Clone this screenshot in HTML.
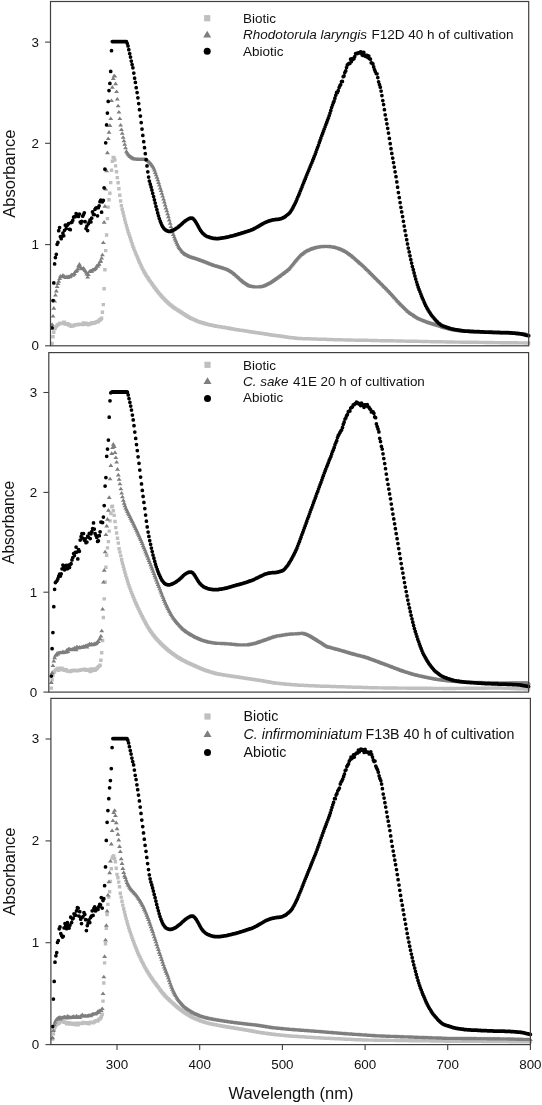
<!DOCTYPE html>
<html><head><meta charset="utf-8"><title>Absorbance spectra</title>
<style>
html,body{margin:0;padding:0;background:#fff}
svg{display:block;will-change:transform}
text{font-family:"Liberation Sans",sans-serif;fill:#111}
.t{font-size:13.4px}
.a{font-size:16.5px}
</style></head><body>
<svg width="542" height="1105" viewBox="0 0 542 1105">
<rect width="542" height="1105" fill="#fff"/>
<path d="M52.1 343.4h0M53 336.8h0M53.8 332.2h0M54.6 328.5h0M55.4 328h0M56.3 326.4h0M57.1 325.2h0M57.9 324.8h0M58.7 324.4h0M59.6 323.4h0M60.4 323.2h0M61.2 323.2h0M62 323.6h0M62.9 323.3h0M63.7 322.2h0M64.5 322.5h0M65.3 323.7h0M66.2 324.4h0M67 323.8h0M67.8 323.8h0M68.6 325.1h0M69.5 324.7h0M70.3 325.5h0M71.1 326.3h0M71.9 326h0M72.8 325.6h0M73.6 325.8h0M74.4 324.9h0M75.2 325h0M76.1 324.7h0M76.9 324.8h0M77.7 324.5h0M78.5 324.5h0M79.4 324.3h0M80.2 324.4h0M81 324.2h0M81.8 324.2h0M82.7 324.6h0M83.5 323h0M84.3 324.2h0M85.1 323.4h0M86 323.1h0M86.8 323.8h0M87.6 324h0M88.4 324.7h0M89.3 323.8h0M90.1 324.1h0M90.9 323.8h0M91.7 322.6h0M92.5 322.6h0M93.4 323.2h0M94.2 323h0M95 322.9h0M95.8 322.3h0M96.7 321.9h0M97.5 321.5h0M98.3 321.7h0M99.1 320.2h0M100 320h0M100.8 319.3h0M101.6 318.2h0M102.4 312.3h0M103.3 304.6h0M104.1 288.8h0M104.9 269.8h0M105.7 250.6h0M106.6 235h0M107.4 218.6h0M108.2 207.1h0M109 199.8h0M109.9 193.3h0M110.7 182.6h0M111.5 170.2h0M112.3 161.2h0M113.2 157.4h0M114 157.6h0M114.8 160h0M115.6 165.9h0M116.5 171.8h0M117.3 177.6h0M118.1 182.7h0M118.9 188.8h0M119.8 195.3h0M120.6 201h0M121.4 205.6h0M122.2 209.3h0M123.1 212.8h0M123.9 216.1h0M124.7 219.4h0M125.5 222.5h0M126.4 225.5h0M127.2 228.4h0M128 231.2h0M128.8 233.8h0M129.7 236.3h0M130.5 238.8h0M131.3 241.3h0M132.1 243.8h0M132.9 246.2h0M133.8 248.5h0M134.6 250.6h0M135.4 252.6h0M136.2 254.6h0M137.1 256.6h0M137.9 258.5h0M138.7 260.5h0M139.5 262.3h0M140.4 264.2h0M141.2 266h0M142 267.8h0M142.8 269.4h0M143.7 271h0M144.5 272.5h0M145.3 273.9h0M146.1 275.3h0M147 276.6h0M147.8 277.8h0M148.6 279h0M149.4 280.2h0M150.3 281.4h0M151.1 282.6h0M151.9 283.8h0M152.7 284.9h0M153.6 286.1h0M154.4 287.3h0M155.2 288.4h0M156 289.5h0M156.9 290.5h0M157.7 291.6h0M158.5 292.6h0M159.3 293.6h0M160.2 294.6h0M161 295.6h0M161.8 296.5h0M162.6 297.4h0M163.5 298.3h0M164.3 299.1h0M165.1 300h0M165.9 300.8h0M166.8 301.6h0M167.6 302.4h0M168.4 303.2h0M169.2 303.9h0M170.1 304.6h0M170.9 305.2h0M171.7 305.9h0M172.5 306.5h0M173.3 307.2h0M174.2 307.8h0M175 308.4h0M175.8 308.9h0M176.6 309.4h0M177.5 310h0M178.3 310.5h0M179.1 311h0M179.9 311.5h0M180.8 312h0M181.6 312.5h0M182.4 313.1h0M183.2 313.6h0M184.1 314.2h0M184.9 314.7h0M185.7 315.2h0M186.5 315.8h0M187.4 316.3h0M188.2 316.8h0M189 317.3h0M189.8 317.8h0M190.7 318.2h0M191.5 318.5h0M192.3 318.9h0M193.1 319.3h0M194 319.6h0M194.8 320h0M195.6 320.4h0M196.4 320.8h0M197.3 321.1h0M198.1 321.5h0M198.9 321.8h0M199.7 322.1h0M200.6 322.3h0M201.4 322.5h0M202.2 322.8h0M203 323h0M203.9 323.3h0M204.7 323.5h0M205.5 323.8h0M206.3 324h0M207.2 324.2h0M208 324.4h0M208.8 324.6h0M209.6 324.8h0M210.4 325h0M211.3 325.1h0M212.1 325.3h0M212.9 325.5h0M213.7 325.6h0M214.6 325.8h0M215.4 326h0M216.2 326.2h0M217 326.3h0M217.9 326.4h0M218.7 326.6h0M219.5 326.7h0M220.3 326.8h0M221.2 326.9h0M222 327.1h0M222.8 327.2h0M223.6 327.3h0M224.5 327.5h0M225.3 327.6h0M226.1 327.7h0M226.9 327.9h0M227.8 328h0M228.6 328.2h0M229.4 328.3h0M230.2 328.5h0M231.1 328.7h0M231.9 328.8h0M232.7 329h0M233.5 329.1h0M234.4 329.3h0M235.2 329.4h0M236 329.6h0M236.8 329.7h0M237.7 329.8h0M238.5 329.9h0M239.3 330.1h0M240.1 330.2h0M241 330.3h0M241.8 330.4h0M242.6 330.5h0M243.4 330.6h0M244.3 330.8h0M245.1 330.9h0M245.9 331h0M246.7 331.1h0M247.6 331.3h0M248.4 331.4h0M249.2 331.6h0M250 331.7h0M250.8 331.8h0M251.7 332h0M252.5 332.1h0M253.3 332.2h0M254.1 332.3h0M255 332.5h0M255.8 332.6h0M256.6 332.7h0M257.4 332.8h0M258.3 332.9h0M259.1 333h0M259.9 333.2h0M260.7 333.3h0M261.6 333.4h0M262.4 333.5h0M263.2 333.6h0M264 333.8h0M264.9 333.9h0M265.7 334h0M266.5 334.2h0M267.3 334.3h0M268.2 334.4h0M269 334.6h0M269.8 334.7h0M270.6 334.8h0M271.5 335h0M272.3 335.1h0M273.1 335.2h0M273.9 335.3h0M274.8 335.4h0M275.6 335.5h0M276.4 335.6h0M277.2 335.7h0M278.1 335.8h0M278.9 335.9h0M279.7 336h0M280.5 336.1h0M281.4 336.3h0M282.2 336.4h0M283 336.5h0M283.8 336.6h0M284.7 336.8h0M285.5 336.9h0M286.3 337h0M287.1 337.1h0M288 337.2h0M288.8 337.4h0M289.6 337.5h0M290.4 337.6h0M291.2 337.7h0M292.1 337.7h0M292.9 337.8h0M293.7 337.9h0M294.5 338h0M295.4 338.1h0M296.2 338.2h0M297 338.3h0M297.8 338.4h0M298.7 338.5h0M299.5 338.5h0M300.3 338.5h0M301.1 338.6h0M302 338.6h0M302.8 338.6h0M303.6 338.7h0M304.4 338.7h0M305.3 338.7h0M306.1 338.7h0M306.9 338.8h0M307.7 338.8h0M308.6 338.8h0M309.4 338.9h0M310.2 338.9h0M311 338.9h0M311.9 338.9h0M312.7 339h0M313.5 339h0M314.3 339h0M315.2 339h0M316 339.1h0M316.8 339.1h0M317.6 339.1h0M318.5 339.1h0M319.3 339.2h0M320.1 339.2h0M320.9 339.2h0M321.8 339.2h0M322.6 339.3h0M323.4 339.3h0M324.2 339.3h0M325.1 339.3h0M325.9 339.4h0M326.7 339.4h0M327.5 339.4h0M328.4 339.5h0M329.2 339.5h0M330 339.5h0M330.8 339.5h0M331.6 339.6h0M332.5 339.6h0M333.3 339.6h0M334.1 339.6h0M334.9 339.7h0M335.8 339.7h0M336.6 339.7h0M337.4 339.7h0M338.2 339.8h0M339.1 339.8h0M339.9 339.8h0M340.7 339.8h0M341.5 339.9h0M342.4 339.9h0M343.2 339.9h0M344 339.9h0M344.8 339.9h0M345.7 339.9h0M346.5 340h0M347.3 340h0M348.1 340h0M349 340h0M349.8 340h0M350.6 340h0M351.4 340.1h0M352.3 340.1h0M353.1 340.1h0M353.9 340.1h0M354.7 340.1h0M355.6 340.1h0M356.4 340.2h0M357.2 340.2h0M358 340.2h0M358.9 340.2h0M359.7 340.2h0M360.5 340.2h0M361.3 340.3h0M362.2 340.3h0M363 340.3h0M363.8 340.3h0M364.6 340.3h0M365.5 340.3h0M366.3 340.3h0M367.1 340.4h0M367.9 340.4h0M368.8 340.4h0M369.6 340.4h0M370.4 340.4h0M371.2 340.4h0M372 340.5h0M372.9 340.5h0M373.7 340.5h0M374.5 340.5h0M375.3 340.5h0M376.2 340.5h0M377 340.6h0M377.8 340.6h0M378.6 340.6h0M379.5 340.6h0M380.3 340.6h0M381.1 340.6h0M381.9 340.7h0M382.8 340.7h0M383.6 340.7h0M384.4 340.7h0M385.2 340.7h0M386.1 340.7h0M386.9 340.7h0M387.7 340.8h0M388.5 340.8h0M389.4 340.8h0M390.2 340.8h0M391 340.8h0M391.8 340.8h0M392.7 340.9h0M393.5 340.9h0M394.3 340.9h0M395.1 340.9h0M396 340.9h0M396.8 340.9h0M397.6 341h0M398.4 341h0M399.3 341h0M400.1 341h0M400.9 341h0M401.7 341h0M402.6 341.1h0M403.4 341.1h0M404.2 341.1h0M405 341.1h0M405.9 341.1h0M406.7 341.1h0M407.5 341.2h0M408.3 341.2h0M409.2 341.2h0M410 341.2h0M410.8 341.2h0M411.6 341.2h0M412.4 341.3h0M413.3 341.3h0M414.1 341.3h0M414.9 341.3h0M415.7 341.3h0M416.6 341.3h0M417.4 341.4h0M418.2 341.4h0M419 341.4h0M419.9 341.4h0M420.7 341.4h0M421.5 341.4h0M422.3 341.5h0M423.2 341.5h0M424 341.5h0M424.8 341.5h0M425.6 341.5h0M426.5 341.5h0M427.3 341.6h0M428.1 341.6h0M428.9 341.6h0M429.8 341.6h0M430.6 341.6h0M431.4 341.6h0M432.2 341.7h0M433.1 341.7h0M433.9 341.7h0M434.7 341.7h0M435.5 341.7h0M436.4 341.7h0M437.2 341.8h0M438 341.8h0M438.8 341.8h0M439.7 341.8h0M440.5 341.8h0M441.3 341.8h0M442.1 341.9h0M443 341.9h0M443.8 341.9h0M444.6 341.9h0M445.4 341.9h0M446.3 341.9h0M447.1 342h0M447.9 342h0M448.7 342h0M449.5 342h0M450.4 342h0M451.2 342h0M452 342h0M452.8 342h0M453.7 342.1h0M454.5 342.1h0M455.3 342.1h0M456.1 342.1h0M457 342.1h0M457.8 342.1h0M458.6 342.1h0M459.4 342.1h0M460.3 342.1h0M461.1 342.1h0M461.9 342.2h0M462.7 342.2h0M463.6 342.2h0M464.4 342.2h0M465.2 342.2h0M466 342.2h0M466.9 342.2h0M467.7 342.2h0M468.5 342.2h0M469.3 342.3h0M470.2 342.3h0M471 342.3h0M471.8 342.3h0M472.6 342.3h0M473.5 342.3h0M474.3 342.3h0M475.1 342.3h0M475.9 342.3h0M476.8 342.3h0M477.6 342.4h0M478.4 342.4h0M479.2 342.4h0M480.1 342.4h0M480.9 342.4h0M481.7 342.4h0M482.5 342.4h0M483.4 342.4h0M484.2 342.4h0M485 342.4h0M485.8 342.5h0M486.7 342.5h0M487.5 342.5h0M488.3 342.5h0M489.1 342.5h0M489.9 342.5h0M490.8 342.5h0M491.6 342.5h0M492.4 342.5h0M493.2 342.6h0M494.1 342.6h0M494.9 342.6h0M495.7 342.6h0M496.5 342.6h0M497.4 342.6h0M498.2 342.6h0M499 342.6h0M499.8 342.6h0M500.7 342.6h0M501.5 342.7h0M502.3 342.7h0M503.1 342.7h0M504 342.7h0M504.8 342.7h0M505.6 342.7h0M506.4 342.7h0M507.3 342.7h0M508.1 342.7h0M508.9 342.8h0M509.7 342.8h0M510.6 342.8h0M511.4 342.8h0M512.2 342.8h0M513 342.8h0M513.9 342.8h0M514.7 342.8h0M515.5 342.8h0M516.3 342.8h0M517.2 342.9h0M518 342.9h0M518.8 342.9h0M519.6 342.9h0M520.5 342.9h0M521.3 342.9h0M522.1 342.9h0M522.9 342.9h0M523.8 342.9h0M524.6 342.9h0M525.4 343h0M526.2 343h0M527.1 343h0M527.9 343h0M528.7 343h0" stroke="#bfbfbf" stroke-width="3.4" stroke-linecap="square" fill="none"/>
<path d="M52.1 322.3l2.5 3.6h-4.9zM53 313.9l2.5 3.6h-4.9zM53.8 306.1l2.5 3.6h-4.9zM54.6 298.8l2.5 3.6h-4.9zM55.4 292.9l2.5 3.6h-4.9zM56.3 288.8l2.5 3.6h-4.9zM57.1 284.5l2.5 3.6h-4.9zM57.9 281.3l2.5 3.6h-4.9zM58.7 279.1l2.5 3.6h-4.9zM59.6 276.4l2.5 3.6h-4.9zM60.4 274l2.5 3.6h-4.9zM61.2 274.7l2.5 3.6h-4.9zM62 274.6l2.5 3.6h-4.9zM62.9 273.1l2.5 3.6h-4.9zM63.7 274.4l2.5 3.6h-4.9zM64.5 274.2l2.5 3.6h-4.9zM65.3 275l2.5 3.6h-4.9zM66.2 275.4l2.5 3.6h-4.9zM67 274.5l2.5 3.6h-4.9zM67.8 275.3l2.5 3.6h-4.9zM68.6 274.6l2.5 3.6h-4.9zM69.5 274.6l2.5 3.6h-4.9zM70.3 274.4l2.5 3.6h-4.9zM71.1 272.9l2.5 3.6h-4.9zM71.9 272.7l2.5 3.6h-4.9zM72.8 273.1l2.5 3.6h-4.9zM73.6 272.2l2.5 3.6h-4.9zM74.4 271.3l2.5 3.6h-4.9zM75.2 269.4l2.5 3.6h-4.9zM76.1 269l2.5 3.6h-4.9zM76.9 268.2l2.5 3.6h-4.9zM77.7 266.7l2.5 3.6h-4.9zM78.5 263.7l2.5 3.6h-4.9zM79.4 262.1l2.5 3.6h-4.9zM80.2 264.6l2.5 3.6h-4.9zM81 266.4l2.5 3.6h-4.9zM81.8 266.4l2.5 3.6h-4.9zM82.7 266.7l2.5 3.6h-4.9zM83.5 266.1l2.5 3.6h-4.9zM84.3 267.1l2.5 3.6h-4.9zM85.1 268.5l2.5 3.6h-4.9zM86 269.8l2.5 3.6h-4.9zM86.8 271.8l2.5 3.6h-4.9zM87.6 275l2.5 3.6h-4.9zM88.4 272.4l2.5 3.6h-4.9zM89.3 269.5l2.5 3.6h-4.9zM90.1 269.3l2.5 3.6h-4.9zM90.9 268.6l2.5 3.6h-4.9zM91.7 269.2l2.5 3.6h-4.9zM92.5 267.8l2.5 3.6h-4.9zM93.4 267.6l2.5 3.6h-4.9zM94.2 267.4l2.5 3.6h-4.9zM95 266.5l2.5 3.6h-4.9zM95.8 265.6l2.5 3.6h-4.9zM96.7 263.8l2.5 3.6h-4.9zM97.5 264.1l2.5 3.6h-4.9zM98.3 262.6l2.5 3.6h-4.9zM99.1 261.9l2.5 3.6h-4.9zM100 259.4l2.5 3.6h-4.9zM100.8 258.9l2.5 3.6h-4.9zM101.6 256l2.5 3.6h-4.9zM102.4 252.7l2.5 3.6h-4.9zM103.3 240.4l2.5 3.6h-4.9zM104.1 220.1l2.5 3.6h-4.9zM104.9 204.1l2.5 3.6h-4.9zM105.7 186.9l2.5 3.6h-4.9zM106.6 168.6l2.5 3.6h-4.9zM107.4 150.6l2.5 3.6h-4.9zM108.2 136.4l2.5 3.6h-4.9zM109 130.1l2.5 3.6h-4.9zM109.9 123.3l2.5 3.6h-4.9zM110.7 116.5l2.5 3.6h-4.9zM111.5 98.5l2.5 3.6h-4.9zM112.3 85.1l2.5 3.6h-4.9zM113.2 76.5l2.5 3.6h-4.9zM114 73.8l2.5 3.6h-4.9zM114.8 73.9l2.5 3.6h-4.9zM115.6 81.6l2.5 3.6h-4.9zM116.5 89.4l2.5 3.6h-4.9zM117.3 96.9l2.5 3.6h-4.9zM118.1 103.7l2.5 3.6h-4.9zM118.9 110l2.5 3.6h-4.9zM119.8 116.5l2.5 3.6h-4.9zM120.6 122.9l2.5 3.6h-4.9zM121.4 127.5l2.5 3.6h-4.9zM122.2 131.2l2.5 3.6h-4.9zM123.1 135.2l2.5 3.6h-4.9zM123.9 138.7l2.5 3.6h-4.9zM124.7 142.2l2.5 3.6h-4.9zM125.5 145.7l2.5 3.6h-4.9zM126.4 149.2l2.5 3.6h-4.9zM127.2 150.7l2.5 3.6h-4.9zM128 151.8l2.5 3.6h-4.9zM128.8 152.8l2.5 3.6h-4.9zM129.7 153.8l2.5 3.6h-4.9zM130.5 154.5l2.5 3.6h-4.9zM131.3 155.1l2.5 3.6h-4.9zM132.1 155.6l2.5 3.6h-4.9zM132.9 156.1l2.5 3.6h-4.9zM133.8 156.6l2.5 3.6h-4.9zM134.6 156.9l2.5 3.6h-4.9zM135.4 157l2.5 3.6h-4.9zM136.2 157.1l2.5 3.6h-4.9zM137.1 157.2l2.5 3.6h-4.9zM137.9 157.2l2.5 3.6h-4.9zM138.7 157.3l2.5 3.6h-4.9zM139.5 157.3l2.5 3.6h-4.9zM140.4 157.3l2.5 3.6h-4.9zM141.2 157.3l2.5 3.6h-4.9zM142 157.3l2.5 3.6h-4.9zM142.8 157.3l2.5 3.6h-4.9zM143.7 157.2l2.5 3.6h-4.9zM144.5 157.2l2.5 3.6h-4.9zM145.3 157.2l2.5 3.6h-4.9zM146.1 157.4l2.5 3.6h-4.9zM147 157.8l2.5 3.6h-4.9zM147.8 158.4l2.5 3.6h-4.9zM148.6 159.2l2.5 3.6h-4.9zM149.4 160l2.5 3.6h-4.9zM150.3 160.9l2.5 3.6h-4.9zM151.1 161.8l2.5 3.6h-4.9zM151.9 162.8l2.5 3.6h-4.9zM152.7 164.1l2.5 3.6h-4.9zM153.6 165.9l2.5 3.6h-4.9zM154.4 168l2.5 3.6h-4.9zM155.2 170.3l2.5 3.6h-4.9zM156 172.7l2.5 3.6h-4.9zM156.9 175.1l2.5 3.6h-4.9zM157.7 177.7l2.5 3.6h-4.9zM158.5 180.3l2.5 3.6h-4.9zM159.3 183l2.5 3.6h-4.9zM160.2 185.8l2.5 3.6h-4.9zM161 188.5l2.5 3.6h-4.9zM161.8 191.2l2.5 3.6h-4.9zM162.6 194l2.5 3.6h-4.9zM163.5 196.9l2.5 3.6h-4.9zM164.3 199.8l2.5 3.6h-4.9zM165.1 202.8l2.5 3.6h-4.9zM165.9 205.8l2.5 3.6h-4.9zM166.8 208.7l2.5 3.6h-4.9zM167.6 211.7l2.5 3.6h-4.9zM168.4 214.6l2.5 3.6h-4.9zM169.2 217.8l2.5 3.6h-4.9zM170.1 221.1l2.5 3.6h-4.9zM170.9 224.4l2.5 3.6h-4.9zM171.7 227.3l2.5 3.6h-4.9zM172.5 229.9l2.5 3.6h-4.9zM173.3 232.4l2.5 3.6h-4.9zM174.2 234.7l2.5 3.6h-4.9zM175 236.8l2.5 3.6h-4.9zM175.8 238.7l2.5 3.6h-4.9zM176.6 240.6l2.5 3.6h-4.9zM177.5 242.3l2.5 3.6h-4.9zM178.3 243.9l2.5 3.6h-4.9zM179.1 245.3l2.5 3.6h-4.9zM179.9 246.4l2.5 3.6h-4.9zM180.8 247.5l2.5 3.6h-4.9zM181.6 248.6l2.5 3.6h-4.9zM182.4 249.6l2.5 3.6h-4.9zM183.2 250.5l2.5 3.6h-4.9zM184.1 251.2l2.5 3.6h-4.9zM184.9 251.8l2.5 3.6h-4.9zM185.7 252.3l2.5 3.6h-4.9zM186.5 252.8l2.5 3.6h-4.9zM187.4 253.2l2.5 3.6h-4.9zM188.2 253.7l2.5 3.6h-4.9zM189 254.1l2.5 3.6h-4.9zM189.8 254.5l2.5 3.6h-4.9zM190.7 254.9l2.5 3.6h-4.9zM191.5 255.1l2.5 3.6h-4.9zM192.3 255.4l2.5 3.6h-4.9zM193.1 255.6l2.5 3.6h-4.9zM194 255.9l2.5 3.6h-4.9zM194.8 256.1l2.5 3.6h-4.9zM195.6 256.4l2.5 3.6h-4.9zM196.4 256.6l2.5 3.6h-4.9zM197.3 256.9l2.5 3.6h-4.9zM198.1 257.2l2.5 3.6h-4.9zM198.9 257.5l2.5 3.6h-4.9zM199.7 257.8l2.5 3.6h-4.9zM200.6 258.1l2.5 3.6h-4.9zM201.4 258.4l2.5 3.6h-4.9zM202.2 258.7l2.5 3.6h-4.9zM203 259l2.5 3.6h-4.9zM203.9 259.3l2.5 3.6h-4.9zM204.7 259.6l2.5 3.6h-4.9zM205.5 259.9l2.5 3.6h-4.9zM206.3 260.2l2.5 3.6h-4.9zM207.2 260.6l2.5 3.6h-4.9zM208 260.9l2.5 3.6h-4.9zM208.8 261.2l2.5 3.6h-4.9zM209.6 261.6l2.5 3.6h-4.9zM210.4 261.9l2.5 3.6h-4.9zM211.3 262.2l2.5 3.6h-4.9zM212.1 262.5l2.5 3.6h-4.9zM212.9 262.9l2.5 3.6h-4.9zM213.7 263.1l2.5 3.6h-4.9zM214.6 263.4l2.5 3.6h-4.9zM215.4 263.7l2.5 3.6h-4.9zM216.2 263.9l2.5 3.6h-4.9zM217 264.1l2.5 3.6h-4.9zM217.9 264.4l2.5 3.6h-4.9zM218.7 264.6l2.5 3.6h-4.9zM219.5 264.9l2.5 3.6h-4.9zM220.3 265.1l2.5 3.6h-4.9zM221.2 265.4l2.5 3.6h-4.9zM222 265.6l2.5 3.6h-4.9zM222.8 265.9l2.5 3.6h-4.9zM223.6 266.1l2.5 3.6h-4.9zM224.5 266.4l2.5 3.6h-4.9zM225.3 266.7l2.5 3.6h-4.9zM226.1 266.9l2.5 3.6h-4.9zM226.9 267.2l2.5 3.6h-4.9zM227.8 267.6l2.5 3.6h-4.9zM228.6 268l2.5 3.6h-4.9zM229.4 268.5l2.5 3.6h-4.9zM230.2 269l2.5 3.6h-4.9zM231.1 269.5l2.5 3.6h-4.9zM231.9 270l2.5 3.6h-4.9zM232.7 270.5l2.5 3.6h-4.9zM233.5 271.2l2.5 3.6h-4.9zM234.4 271.8l2.5 3.6h-4.9zM235.2 272.5l2.5 3.6h-4.9zM236 273.2l2.5 3.6h-4.9zM236.8 273.9l2.5 3.6h-4.9zM237.7 274.7l2.5 3.6h-4.9zM238.5 275.4l2.5 3.6h-4.9zM239.3 276.1l2.5 3.6h-4.9zM240.1 276.9l2.5 3.6h-4.9zM241 277.7l2.5 3.6h-4.9zM241.8 278.4l2.5 3.6h-4.9zM242.6 279.1l2.5 3.6h-4.9zM243.4 279.8l2.5 3.6h-4.9zM244.3 280.4l2.5 3.6h-4.9zM245.1 280.9l2.5 3.6h-4.9zM245.9 281.5l2.5 3.6h-4.9zM246.7 282.1l2.5 3.6h-4.9zM247.6 282.6l2.5 3.6h-4.9zM248.4 283.1l2.5 3.6h-4.9zM249.2 283.6l2.5 3.6h-4.9zM250 283.9l2.5 3.6h-4.9zM250.8 284.1l2.5 3.6h-4.9zM251.7 284.3l2.5 3.6h-4.9zM252.5 284.4l2.5 3.6h-4.9zM253.3 284.6l2.5 3.6h-4.9zM254.1 284.7l2.5 3.6h-4.9zM255 284.9l2.5 3.6h-4.9zM255.8 285l2.5 3.6h-4.9zM256.6 285l2.5 3.6h-4.9zM257.4 285l2.5 3.6h-4.9zM258.3 284.9l2.5 3.6h-4.9zM259.1 284.8l2.5 3.6h-4.9zM259.9 284.7l2.5 3.6h-4.9zM260.7 284.6l2.5 3.6h-4.9zM261.6 284.4l2.5 3.6h-4.9zM262.4 284.2l2.5 3.6h-4.9zM263.2 283.9l2.5 3.6h-4.9zM264 283.6l2.5 3.6h-4.9zM264.9 283.2l2.5 3.6h-4.9zM265.7 282.8l2.5 3.6h-4.9zM266.5 282.4l2.5 3.6h-4.9zM267.3 282l2.5 3.6h-4.9zM268.2 281.6l2.5 3.6h-4.9zM269 281.2l2.5 3.6h-4.9zM269.8 280.7l2.5 3.6h-4.9zM270.6 280.2l2.5 3.6h-4.9zM271.5 279.6l2.5 3.6h-4.9zM272.3 279.1l2.5 3.6h-4.9zM273.1 278.5l2.5 3.6h-4.9zM273.9 277.9l2.5 3.6h-4.9zM274.8 277.3l2.5 3.6h-4.9zM275.6 276.7l2.5 3.6h-4.9zM276.4 276.2l2.5 3.6h-4.9zM277.2 275.6l2.5 3.6h-4.9zM278.1 275l2.5 3.6h-4.9zM278.9 274.4l2.5 3.6h-4.9zM279.7 273.8l2.5 3.6h-4.9zM280.5 273.2l2.5 3.6h-4.9zM281.4 272.5l2.5 3.6h-4.9zM282.2 271.9l2.5 3.6h-4.9zM283 271.3l2.5 3.6h-4.9zM283.8 270.7l2.5 3.6h-4.9zM284.7 270.1l2.5 3.6h-4.9zM285.5 269.4l2.5 3.6h-4.9zM286.3 268.8l2.5 3.6h-4.9zM287.1 268.1l2.5 3.6h-4.9zM288 267.4l2.5 3.6h-4.9zM288.8 266.6l2.5 3.6h-4.9zM289.6 265.7l2.5 3.6h-4.9zM290.4 264.7l2.5 3.6h-4.9zM291.2 263.7l2.5 3.6h-4.9zM292.1 262.7l2.5 3.6h-4.9zM292.9 261.6l2.5 3.6h-4.9zM293.7 260.6l2.5 3.6h-4.9zM294.5 259.6l2.5 3.6h-4.9zM295.4 258.6l2.5 3.6h-4.9zM296.2 257.6l2.5 3.6h-4.9zM297 256.7l2.5 3.6h-4.9zM297.8 255.7l2.5 3.6h-4.9zM298.7 254.8l2.5 3.6h-4.9zM299.5 253.9l2.5 3.6h-4.9zM300.3 253.1l2.5 3.6h-4.9zM301.1 252.4l2.5 3.6h-4.9zM302 251.8l2.5 3.6h-4.9zM302.8 251.2l2.5 3.6h-4.9zM303.6 250.6l2.5 3.6h-4.9zM304.4 250l2.5 3.6h-4.9zM305.3 249.5l2.5 3.6h-4.9zM306.1 249l2.5 3.6h-4.9zM306.9 248.6l2.5 3.6h-4.9zM307.7 248.2l2.5 3.6h-4.9zM308.6 247.9l2.5 3.6h-4.9zM309.4 247.5l2.5 3.6h-4.9zM310.2 247.1l2.5 3.6h-4.9zM311 246.8l2.5 3.6h-4.9zM311.9 246.6l2.5 3.6h-4.9zM312.7 246.3l2.5 3.6h-4.9zM313.5 246l2.5 3.6h-4.9zM314.3 245.8l2.5 3.6h-4.9zM315.2 245.6l2.5 3.6h-4.9zM316 245.4l2.5 3.6h-4.9zM316.8 245.2l2.5 3.6h-4.9zM317.6 245.1l2.5 3.6h-4.9zM318.5 245l2.5 3.6h-4.9zM319.3 244.8l2.5 3.6h-4.9zM320.1 244.7l2.5 3.6h-4.9zM320.9 244.7l2.5 3.6h-4.9zM321.8 244.6l2.5 3.6h-4.9zM322.6 244.6l2.5 3.6h-4.9zM323.4 244.6l2.5 3.6h-4.9zM324.2 244.5l2.5 3.6h-4.9zM325.1 244.5l2.5 3.6h-4.9zM325.9 244.5l2.5 3.6h-4.9zM326.7 244.5l2.5 3.6h-4.9zM327.5 244.5l2.5 3.6h-4.9zM328.4 244.5l2.5 3.6h-4.9zM329.2 244.6l2.5 3.6h-4.9zM330 244.6l2.5 3.6h-4.9zM330.8 244.7l2.5 3.6h-4.9zM331.6 244.8l2.5 3.6h-4.9zM332.5 244.9l2.5 3.6h-4.9zM333.3 245l2.5 3.6h-4.9zM334.1 245.1l2.5 3.6h-4.9zM334.9 245.3l2.5 3.6h-4.9zM335.8 245.5l2.5 3.6h-4.9zM336.6 245.7l2.5 3.6h-4.9zM337.4 245.9l2.5 3.6h-4.9zM338.2 246.2l2.5 3.6h-4.9zM339.1 246.5l2.5 3.6h-4.9zM339.9 246.8l2.5 3.6h-4.9zM340.7 247.1l2.5 3.6h-4.9zM341.5 247.4l2.5 3.6h-4.9zM342.4 247.8l2.5 3.6h-4.9zM343.2 248.2l2.5 3.6h-4.9zM344 248.6l2.5 3.6h-4.9zM344.8 249.1l2.5 3.6h-4.9zM345.7 249.5l2.5 3.6h-4.9zM346.5 250l2.5 3.6h-4.9zM347.3 250.5l2.5 3.6h-4.9zM348.1 251.1l2.5 3.6h-4.9zM349 251.7l2.5 3.6h-4.9zM349.8 252.3l2.5 3.6h-4.9zM350.6 252.8l2.5 3.6h-4.9zM351.4 253.5l2.5 3.6h-4.9zM352.3 254.1l2.5 3.6h-4.9zM353.1 254.8l2.5 3.6h-4.9zM353.9 255.5l2.5 3.6h-4.9zM354.7 256.2l2.5 3.6h-4.9zM355.6 257l2.5 3.6h-4.9zM356.4 257.7l2.5 3.6h-4.9zM357.2 258.4l2.5 3.6h-4.9zM358 259.1l2.5 3.6h-4.9zM358.9 259.8l2.5 3.6h-4.9zM359.7 260.6l2.5 3.6h-4.9zM360.5 261.3l2.5 3.6h-4.9zM361.3 262l2.5 3.6h-4.9zM362.2 262.7l2.5 3.6h-4.9zM363 263.5l2.5 3.6h-4.9zM363.8 264.2l2.5 3.6h-4.9zM364.6 265l2.5 3.6h-4.9zM365.5 265.8l2.5 3.6h-4.9zM366.3 266.6l2.5 3.6h-4.9zM367.1 267.4l2.5 3.6h-4.9zM367.9 268.2l2.5 3.6h-4.9zM368.8 269l2.5 3.6h-4.9zM369.6 269.8l2.5 3.6h-4.9zM370.4 270.6l2.5 3.6h-4.9zM371.2 271.5l2.5 3.6h-4.9zM372 272.3l2.5 3.6h-4.9zM372.9 273.1l2.5 3.6h-4.9zM373.7 273.9l2.5 3.6h-4.9zM374.5 274.8l2.5 3.6h-4.9zM375.3 275.6l2.5 3.6h-4.9zM376.2 276.4l2.5 3.6h-4.9zM377 277.2l2.5 3.6h-4.9zM377.8 278.1l2.5 3.6h-4.9zM378.6 278.9l2.5 3.6h-4.9zM379.5 279.7l2.5 3.6h-4.9zM380.3 280.5l2.5 3.6h-4.9zM381.1 281.4l2.5 3.6h-4.9zM381.9 282.2l2.5 3.6h-4.9zM382.8 283l2.5 3.6h-4.9zM383.6 283.8l2.5 3.6h-4.9zM384.4 284.7l2.5 3.6h-4.9zM385.2 285.5l2.5 3.6h-4.9zM386.1 286.3l2.5 3.6h-4.9zM386.9 287.1l2.5 3.6h-4.9zM387.7 288l2.5 3.6h-4.9zM388.5 288.9l2.5 3.6h-4.9zM389.4 289.7l2.5 3.6h-4.9zM390.2 290.6l2.5 3.6h-4.9zM391 291.5l2.5 3.6h-4.9zM391.8 292.4l2.5 3.6h-4.9zM392.7 293.3l2.5 3.6h-4.9zM393.5 294.2l2.5 3.6h-4.9zM394.3 295.1l2.5 3.6h-4.9zM395.1 296l2.5 3.6h-4.9zM396 296.9l2.5 3.6h-4.9zM396.8 297.9l2.5 3.6h-4.9zM397.6 298.8l2.5 3.6h-4.9zM398.4 299.7l2.5 3.6h-4.9zM399.3 300.6l2.5 3.6h-4.9zM400.1 301.5l2.5 3.6h-4.9zM400.9 302.3l2.5 3.6h-4.9zM401.7 303.1l2.5 3.6h-4.9zM402.6 303.9l2.5 3.6h-4.9zM403.4 304.7l2.5 3.6h-4.9zM404.2 305.5l2.5 3.6h-4.9zM405 306.3l2.5 3.6h-4.9zM405.9 307.2l2.5 3.6h-4.9zM406.7 308l2.5 3.6h-4.9zM407.5 308.8l2.5 3.6h-4.9zM408.3 309.5l2.5 3.6h-4.9zM409.2 310.2l2.5 3.6h-4.9zM410 310.8l2.5 3.6h-4.9zM410.8 311.4l2.5 3.6h-4.9zM411.6 311.9l2.5 3.6h-4.9zM412.4 312.5l2.5 3.6h-4.9zM413.3 313l2.5 3.6h-4.9zM414.1 313.6l2.5 3.6h-4.9zM414.9 314.1l2.5 3.6h-4.9zM415.7 314.7l2.5 3.6h-4.9zM416.6 315.2l2.5 3.6h-4.9zM417.4 315.7l2.5 3.6h-4.9zM418.2 316.2l2.5 3.6h-4.9zM419 316.7l2.5 3.6h-4.9zM419.9 317l2.5 3.6h-4.9zM420.7 317.4l2.5 3.6h-4.9zM421.5 317.7l2.5 3.6h-4.9zM422.3 318l2.5 3.6h-4.9zM423.2 318.4l2.5 3.6h-4.9zM424 318.7l2.5 3.6h-4.9zM424.8 319l2.5 3.6h-4.9zM425.6 319.3l2.5 3.6h-4.9zM426.5 319.7l2.5 3.6h-4.9zM427.3 320l2.5 3.6h-4.9zM428.1 320.3l2.5 3.6h-4.9zM428.9 320.6l2.5 3.6h-4.9zM429.8 320.8l2.5 3.6h-4.9zM430.6 321.1l2.5 3.6h-4.9zM431.4 321.3l2.5 3.6h-4.9zM432.2 321.6l2.5 3.6h-4.9zM433.1 321.8l2.5 3.6h-4.9zM433.9 322.1l2.5 3.6h-4.9zM434.7 322.3l2.5 3.6h-4.9zM435.5 322.6l2.5 3.6h-4.9zM436.4 322.8l2.5 3.6h-4.9zM437.2 323.1l2.5 3.6h-4.9zM438 323.3l2.5 3.6h-4.9zM438.8 323.6l2.5 3.6h-4.9zM439.7 323.9l2.5 3.6h-4.9zM440.5 324.2l2.5 3.6h-4.9zM441.3 324.5l2.5 3.6h-4.9zM442.1 324.8l2.5 3.6h-4.9zM443 325.1l2.5 3.6h-4.9zM443.8 325.4l2.5 3.6h-4.9zM444.6 325.6l2.5 3.6h-4.9zM445.4 325.8l2.5 3.6h-4.9zM446.3 326l2.5 3.6h-4.9zM447.1 326.3l2.5 3.6h-4.9zM447.9 326.5l2.5 3.6h-4.9zM448.7 326.7l2.5 3.6h-4.9zM449.5 326.9l2.5 3.6h-4.9zM450.4 327.1l2.5 3.6h-4.9zM451.2 327.3l2.5 3.6h-4.9zM452 327.5l2.5 3.6h-4.9zM452.8 327.7l2.5 3.6h-4.9zM453.7 327.9l2.5 3.6h-4.9zM454.5 328l2.5 3.6h-4.9zM455.3 328.1l2.5 3.6h-4.9zM456.1 328.2l2.5 3.6h-4.9zM457 328.3l2.5 3.6h-4.9zM457.8 328.5l2.5 3.6h-4.9zM458.6 328.6l2.5 3.6h-4.9zM459.4 328.7l2.5 3.6h-4.9zM460.3 328.8l2.5 3.6h-4.9zM461.1 328.9l2.5 3.6h-4.9zM461.9 329l2.5 3.6h-4.9zM462.7 329.1l2.5 3.6h-4.9zM463.6 329.2l2.5 3.6h-4.9zM464.4 329.3l2.5 3.6h-4.9zM465.2 329.4l2.5 3.6h-4.9zM466 329.4l2.5 3.6h-4.9zM466.9 329.5l2.5 3.6h-4.9zM467.7 329.5l2.5 3.6h-4.9zM468.5 329.5l2.5 3.6h-4.9zM469.3 329.6l2.5 3.6h-4.9zM470.2 329.6l2.5 3.6h-4.9zM471 329.7l2.5 3.6h-4.9zM471.8 329.7l2.5 3.6h-4.9zM472.6 329.8l2.5 3.6h-4.9zM473.5 329.8l2.5 3.6h-4.9zM474.3 329.8l2.5 3.6h-4.9zM475.1 329.9l2.5 3.6h-4.9zM475.9 329.9l2.5 3.6h-4.9zM476.8 330l2.5 3.6h-4.9zM477.6 330l2.5 3.6h-4.9zM478.4 330l2.5 3.6h-4.9zM479.2 330.1l2.5 3.6h-4.9zM480.1 330.1l2.5 3.6h-4.9zM480.9 330.2l2.5 3.6h-4.9zM481.7 330.2l2.5 3.6h-4.9zM482.5 330.2l2.5 3.6h-4.9zM483.4 330.3l2.5 3.6h-4.9zM484.2 330.3l2.5 3.6h-4.9zM485 330.4l2.5 3.6h-4.9zM485.8 330.4l2.5 3.6h-4.9zM486.7 330.4l2.5 3.6h-4.9zM487.5 330.5l2.5 3.6h-4.9zM488.3 330.5l2.5 3.6h-4.9zM489.1 330.5l2.5 3.6h-4.9zM489.9 330.5l2.5 3.6h-4.9zM490.8 330.6l2.5 3.6h-4.9zM491.6 330.6l2.5 3.6h-4.9zM492.4 330.6l2.5 3.6h-4.9zM493.2 330.6l2.5 3.6h-4.9zM494.1 330.6l2.5 3.6h-4.9zM494.9 330.7l2.5 3.6h-4.9zM495.7 330.7l2.5 3.6h-4.9zM496.5 330.7l2.5 3.6h-4.9zM497.4 330.7l2.5 3.6h-4.9zM498.2 330.8l2.5 3.6h-4.9zM499 330.8l2.5 3.6h-4.9zM499.8 330.8l2.5 3.6h-4.9zM500.7 330.8l2.5 3.6h-4.9zM501.5 330.8l2.5 3.6h-4.9zM502.3 330.9l2.5 3.6h-4.9zM503.1 330.9l2.5 3.6h-4.9zM504 330.9l2.5 3.6h-4.9zM504.8 330.9l2.5 3.6h-4.9zM505.6 331l2.5 3.6h-4.9zM506.4 331l2.5 3.6h-4.9zM507.3 331l2.5 3.6h-4.9zM508.1 331l2.5 3.6h-4.9zM508.9 331.1l2.5 3.6h-4.9zM509.7 331.1l2.5 3.6h-4.9zM510.6 331.2l2.5 3.6h-4.9zM511.4 331.2l2.5 3.6h-4.9zM512.2 331.3l2.5 3.6h-4.9zM513 331.3l2.5 3.6h-4.9zM513.9 331.4l2.5 3.6h-4.9zM514.7 331.4l2.5 3.6h-4.9zM515.5 331.5l2.5 3.6h-4.9zM516.3 331.5l2.5 3.6h-4.9zM517.2 331.6l2.5 3.6h-4.9zM518 331.6l2.5 3.6h-4.9zM518.8 331.7l2.5 3.6h-4.9zM519.6 331.8l2.5 3.6h-4.9zM520.5 331.8l2.5 3.6h-4.9zM521.3 331.9l2.5 3.6h-4.9zM522.1 331.9l2.5 3.6h-4.9zM522.9 332l2.5 3.6h-4.9zM523.8 332l2.5 3.6h-4.9zM524.6 332.1l2.5 3.6h-4.9zM525.4 332.1l2.5 3.6h-4.9zM526.2 332.2l2.5 3.6h-4.9z" fill="#7e7e7e"/>
<path d="M52.1 327.9h0M53 300.6h0M53.8 282.9h0M54.6 263.9h0M55.4 257.5h0M56.3 254.3h0M57.1 244.3h0M57.9 242.4h0M58.7 230.7h0M59.6 227.5h0M60.4 236.7h0M61.2 238.7h0M62 236.4h0M62.9 233.1h0M63.7 235.7h0M64.5 230.3h0M65.3 225.2h0M66.2 228.6h0M67 225.6h0M67.8 224.6h0M68.6 223.5h0M69.5 229.3h0M70.3 229.7h0M71.1 222.6h0M71.9 222.2h0M72.8 220.3h0M73.6 217h0M74.4 216.9h0M75.2 216.7h0M76.1 213.6h0M76.9 214.8h0M77.7 215.1h0M78.5 216.4h0M79.4 214.1h0M80.2 222h0M81 223h0M81.8 221.3h0M82.7 216.2h0M83.5 214.6h0M84.3 212.8h0M85.1 221.7h0M86 228.5h0M86.8 226h0M87.6 230.5h0M88.4 223.8h0M89.3 221.9h0M90.1 219.8h0M90.9 221.9h0M91.7 218.2h0M92.5 211.9h0M93.4 214.3h0M94.2 214.6h0M95 209.3h0M95.8 208.1h0M96.7 207.9h0M97.5 215.8h0M98.3 207.7h0M99.1 205.8h0M100 201.7h0M100.8 200h0M101.6 212.2h0M102.4 201.8h0M103.3 200.4h0M104.1 187.8h0M104.9 169.2h0M105.7 142.8h0M106.6 124.9h0M107.4 113.1h0M108.2 101.4h0M109 90.6h0M109.9 83.4h0M110.7 71.4h0M111.5 50.7h0M112.3 41.6h0M113.2 41.6h0M114 41.6h0M114.8 41.6h0M115.6 41.6h0M116.5 41.6h0M117.3 41.6h0M118.1 41.6h0M118.9 41.6h0M119.8 41.6h0M120.6 41.6h0M121.4 41.6h0M122.2 41.6h0M123.1 41.6h0M123.9 41.6h0M124.7 41.6h0M125.5 41.6h0M126.4 41.6h0M127.2 43.3h0M128 45.9h0M128.8 49.7h0M129.7 53.5h0M130.5 57h0M131.3 61.1h0M132.1 64.5h0M132.9 67.8h0M133.8 73.1h0M134.6 78.2h0M135.4 82.4h0M136.2 87.7h0M137.1 92.5h0M137.9 97.8h0M138.7 103.6h0M139.5 109.7h0M140.4 116.1h0M141.2 122.6h0M142 129h0M142.8 135.4h0M143.7 141.7h0M144.5 147.7h0M145.3 153.7h0M146.1 159.7h0M147 165.9h0M147.8 171.8h0M148.6 177h0M149.4 181h0M150.3 184.2h0M151.1 187.1h0M151.9 190.1h0M152.7 193.3h0M153.6 196.5h0M154.4 199.8h0M155.2 203.1h0M156 206.4h0M156.9 209.7h0M157.7 212.9h0M158.5 215.8h0M159.3 218.5h0M160.2 221h0M161 223.1h0M161.8 225h0M162.6 226.5h0M163.5 227.8h0M164.3 228.8h0M165.1 229.6h0M165.9 230.2h0M166.8 230.7h0M167.6 231.1h0M168.4 231.3h0M169.2 231.3h0M170.1 231.3h0M170.9 231.2h0M171.7 230.9h0M172.5 230.6h0M173.3 230.2h0M174.2 229.8h0M175 229.3h0M175.8 228.7h0M176.6 228.1h0M177.5 227.5h0M178.3 226.9h0M179.1 226.2h0M179.9 225.5h0M180.8 224.8h0M181.6 224h0M182.4 223.3h0M183.2 222.5h0M184.1 221.8h0M184.9 221.2h0M185.7 220.6h0M186.5 220h0M187.4 219.5h0M188.2 219h0M189 218.7h0M189.8 218.4h0M190.7 218.2h0M191.5 218.1h0M192.3 218.2h0M193.1 218.7h0M194 219.6h0M194.8 220.6h0M195.6 221.7h0M196.4 223h0M197.3 224.5h0M198.1 226.1h0M198.9 227.6h0M199.7 229.1h0M200.6 230.4h0M201.4 231.6h0M202.2 232.6h0M203 233.5h0M203.9 234.2h0M204.7 234.9h0M205.5 235.5h0M206.3 236.1h0M207.2 236.5h0M208 236.8h0M208.8 237.1h0M209.6 237.4h0M210.4 237.7h0M211.3 237.9h0M212.1 238.1h0M212.9 238.3h0M213.7 238.4h0M214.6 238.4h0M215.4 238.5h0M216.2 238.5h0M217 238.5h0M217.9 238.5h0M218.7 238.5h0M219.5 238.4h0M220.3 238.3h0M221.2 238.2h0M222 238h0M222.8 237.9h0M223.6 237.8h0M224.5 237.7h0M225.3 237.5h0M226.1 237.4h0M226.9 237.2h0M227.8 237h0M228.6 236.8h0M229.4 236.6h0M230.2 236.4h0M231.1 236.2h0M231.9 236h0M232.7 235.8h0M233.5 235.6h0M234.4 235.4h0M235.2 235.2h0M236 234.9h0M236.8 234.7h0M237.7 234.4h0M238.5 234.2h0M239.3 233.9h0M240.1 233.7h0M241 233.4h0M241.8 233.2h0M242.6 232.9h0M243.4 232.7h0M244.3 232.4h0M245.1 232.1h0M245.9 231.9h0M246.7 231.6h0M247.6 231.3h0M248.4 231h0M249.2 230.8h0M250 230.5h0M250.8 230.2h0M251.7 229.9h0M252.5 229.6h0M253.3 229.2h0M254.1 228.7h0M255 228.2h0M255.8 227.8h0M256.6 227.3h0M257.4 226.9h0M258.3 226.4h0M259.1 225.9h0M259.9 225.4h0M260.7 224.9h0M261.6 224.4h0M262.4 224h0M263.2 223.5h0M264 223.1h0M264.9 222.7h0M265.7 222.3h0M266.5 222h0M267.3 221.6h0M268.2 221.3h0M269 221h0M269.8 220.7h0M270.6 220.5h0M271.5 220.3h0M272.3 220.1h0M273.1 219.9h0M273.9 219.8h0M274.8 219.6h0M275.6 219.5h0M276.4 219.4h0M277.2 219.3h0M278.1 219.3h0M278.9 219.2h0M279.7 219.1h0M280.5 218.9h0M281.4 218.6h0M282.2 218.2h0M283 217.9h0M283.8 217.4h0M284.7 216.9h0M285.5 216.3h0M286.3 215.6h0M287.1 215h0M288 214.3h0M288.8 213.5h0M289.6 212.8h0M290.4 211.8h0M291.2 210.6h0M292.1 209.2h0M292.9 207.7h0M293.7 206.1h0M294.5 204.5h0M295.4 202.8h0M296.2 201h0M297 199.1h0M297.8 197.1h0M298.7 195.2h0M299.5 193.2h0M300.3 191.1h0M301.1 189h0M302 186.9h0M302.8 184.8h0M303.6 182.8h0M304.4 180.7h0M305.3 178.7h0M306.1 176.6h0M306.9 174.6h0M307.7 172.6h0M308.6 170.6h0M309.4 168.5h0M310.2 166.5h0M311 164.5h0M311.9 162.5h0M312.7 160.4h0M313.5 158.4h0M314.3 156.3h0M315.2 154.2h0M316 151.9h0M316.8 149.6h0M317.6 147.3h0M318.5 145h0M319.3 142.6h0M320.1 140.3h0M320.9 137.9h0M321.8 135.6h0M322.6 133.4h0M323.4 131.2h0M324.2 129h0M325.1 126.8h0M325.9 124.6h0M326.7 122.4h0M327.5 120.2h0M328.4 117.9h0M329.2 115.5h0M330 113.1h0M330.8 110.4h0M331.6 107.5h0M332.5 105h0M333.3 102.7h0M334.1 101.1h0M334.9 98.2h0M335.8 95.2h0M336.6 92.4h0M337.4 92.6h0M338.2 90.7h0M339.1 87.5h0M339.9 85.7h0M340.7 84.5h0M341.5 81.6h0M342.4 81.4h0M343.2 76.7h0M344 75.9h0M344.8 72.6h0M345.7 70.9h0M346.5 67.5h0M347.3 64.9h0M348.1 64.2h0M349 63.4h0M349.8 63.4h0M350.6 59.2h0M351.4 61.6h0M352.3 58.6h0M353.1 59.3h0M353.9 58.8h0M354.7 56.5h0M355.6 53.5h0M356.4 53.7h0M357.2 53.5h0M358 52.8h0M358.9 52.9h0M359.7 52.9h0M360.5 51.8h0M361.3 52.2h0M362.2 54.9h0M363 55.4h0M363.8 52.3h0M364.6 54.9h0M365.5 56.3h0M366.3 55.3h0M367.1 55.3h0M367.9 57.5h0M368.8 56.1h0M369.6 58.7h0M370.4 59.2h0M371.2 62.8h0M372 63h0M372.9 63.9h0M373.7 66.9h0M374.5 69.5h0M375.3 71.6h0M376.2 73.5h0M377 73.8h0M377.8 77.6h0M378.6 81.8h0M379.5 84.7h0M380.3 87.2h0M381.1 91.1h0M381.9 95.5h0M382.8 100.5h0M383.6 104.6h0M384.4 109.7h0M385.2 114.8h0M386.1 119.3h0M386.9 123.8h0M387.7 128.3h0M388.5 133.1h0M389.4 138.4h0M390.2 143.7h0M391 148.7h0M391.8 153.4h0M392.7 158h0M393.5 162.5h0M394.3 167.1h0M395.1 171.8h0M396 176.7h0M396.8 181.9h0M397.6 187.2h0M398.4 192.5h0M399.3 197.6h0M400.1 202.5h0M400.9 207.3h0M401.7 211.9h0M402.6 216.6h0M403.4 221.3h0M404.2 226h0M405 230.7h0M405.9 235.3h0M406.7 239.7h0M407.5 243.9h0M408.3 248h0M409.2 251.9h0M410 255.8h0M410.8 259.5h0M411.6 263.1h0M412.4 266.5h0M413.3 269.7h0M414.1 272.9h0M414.9 276h0M415.7 279.1h0M416.6 282h0M417.4 284.7h0M418.2 287.2h0M419 289.4h0M419.9 291.6h0M420.7 293.8h0M421.5 295.9h0M422.3 297.9h0M423.2 299.8h0M424 301.8h0M424.8 303.6h0M425.6 305.4h0M426.5 307h0M427.3 308.5h0M428.1 309.9h0M428.9 311.3h0M429.8 312.6h0M430.6 313.9h0M431.4 315.1h0M432.2 316.1h0M433.1 317.1h0M433.9 318.1h0M434.7 319h0M435.5 319.9h0M436.4 320.9h0M437.2 321.7h0M438 322.5h0M438.8 323.3h0M439.7 323.9h0M440.5 324.6h0M441.3 325.2h0M442.1 325.7h0M443 326.1h0M443.8 326.4h0M444.6 326.7h0M445.4 326.9h0M446.3 327.2h0M447.1 327.5h0M447.9 327.7h0M448.7 328h0M449.5 328.2h0M450.4 328.5h0M451.2 328.8h0M452 329h0M452.8 329.2h0M453.7 329.4h0M454.5 329.6h0M455.3 329.7h0M456.1 329.8h0M457 329.9h0M457.8 330.1h0M458.6 330.2h0M459.4 330.3h0M460.3 330.4h0M461.1 330.5h0M461.9 330.7h0M462.7 330.8h0M463.6 330.9h0M464.4 331h0M465.2 331h0M466 331.1h0M466.9 331.1h0M467.7 331.2h0M468.5 331.2h0M469.3 331.3h0M470.2 331.3h0M471 331.3h0M471.8 331.4h0M472.6 331.4h0M473.5 331.5h0M474.3 331.5h0M475.1 331.5h0M475.9 331.6h0M476.8 331.6h0M477.6 331.7h0M478.4 331.7h0M479.2 331.7h0M480.1 331.8h0M480.9 331.8h0M481.7 331.9h0M482.5 331.9h0M483.4 331.9h0M484.2 332h0M485 332h0M485.8 332.1h0M486.7 332.1h0M487.5 332.1h0M488.3 332.2h0M489.1 332.2h0M489.9 332.2h0M490.8 332.2h0M491.6 332.2h0M492.4 332.3h0M493.2 332.3h0M494.1 332.3h0M494.9 332.3h0M495.7 332.4h0M496.5 332.4h0M497.4 332.4h0M498.2 332.4h0M499 332.4h0M499.8 332.5h0M500.7 332.5h0M501.5 332.5h0M502.3 332.5h0M503.1 332.6h0M504 332.6h0M504.8 332.6h0M505.6 332.6h0M506.4 332.6h0M507.3 332.7h0M508.1 332.7h0M508.9 332.7h0M509.7 332.8h0M510.6 332.9h0M511.4 332.9h0M512.2 333h0M513 333.1h0M513.9 333.1h0M514.7 333.2h0M515.5 333.3h0M516.3 333.3h0M517.2 333.4h0M518 333.5h0M518.8 333.6h0M519.6 333.7h0M520.5 333.8h0M521.3 334h0M522.1 334.2h0M522.9 334.4h0M523.8 334.6h0M524.6 334.8h0M525.4 335h0M526.2 335.2h0M527.1 335.4h0M527.9 335.6h0M528.7 335.7h0" stroke="#000" stroke-width="3.75" stroke-linecap="round" fill="none"/>
<rect x="50.5" y="1.5" width="478.2" height="344.3" fill="none" stroke="#404040" stroke-width="1.2"/>
<line x1="45.1" y1="345.8" x2="50.5" y2="345.8" stroke="#404040" stroke-width="1.1"/>
<text x="38.9" y="350.2" text-anchor="end" class="t">0</text>
<line x1="45.1" y1="244.6" x2="50.5" y2="244.6" stroke="#404040" stroke-width="1.1"/>
<text x="38.9" y="249.0" text-anchor="end" class="t">1</text>
<line x1="45.1" y1="143.3" x2="50.5" y2="143.3" stroke="#404040" stroke-width="1.1"/>
<text x="38.9" y="147.7" text-anchor="end" class="t">2</text>
<line x1="45.1" y1="42.1" x2="50.5" y2="42.1" stroke="#404040" stroke-width="1.1"/>
<text x="38.9" y="46.5" text-anchor="end" class="t">3</text>
<text transform="translate(15.4 173.7) rotate(-90)" text-anchor="middle" font-size="16.5">Absorbance</text>
<rect x="204.1" y="15.1" width="6.2" height="6.2" fill="#bfbfbf"/>
<path d="M207.2 30.7l4 6.8h-8z" fill="#7e7e7e"/>
<circle cx="207.2" cy="51.2" r="3.5" fill="#000"/>
<text x="243.1" y="22.5" font-size="13.5">Biotic</text>
<text x="243.1" y="39.1" font-size="13.5"><tspan font-style="italic">Rhodotorula laryngis</tspan><tspan dx="0.9"> F12D</tspan> 40 h of cultivation</text>
<text x="243.1" y="55.5" font-size="13.5">Abiotic</text>
<path d="M51.3 688.1h0M52.1 679.7h0M52.9 675.6h0M53.8 672.3h0M54.6 671.8h0M55.4 669.9h0M56.2 669.9h0M57.1 669.1h0M57.9 668.5h0M58.7 670.2h0M59.6 668.3h0M60.4 668.7h0M61.2 669.2h0M62 668.3h0M62.9 669.9h0M63.7 669.4h0M64.5 670.3h0M65.3 669.6h0M66.2 669.7h0M67 671.1h0M67.8 670.9h0M68.7 671h0M69.5 671.5h0M70.3 671.6h0M71.1 671h0M72 670.5h0M72.8 670.7h0M73.6 670.5h0M74.4 670.1h0M75.3 670.8h0M76.1 670.7h0M76.9 670.8h0M77.8 670.8h0M78.6 670.3h0M79.4 670.3h0M80.2 670.3h0M81.1 669.6h0M81.9 669.6h0M82.7 669.9h0M83.5 669.4h0M84.4 669.3h0M85.2 669.5h0M86 670.4h0M86.9 670h0M87.7 669.8h0M88.5 669.8h0M89.3 670.2h0M90.2 671.5h0M91 668.9h0M91.8 670.7h0M92.6 670.3h0M93.5 670.2h0M94.3 668.9h0M95.1 670.2h0M96 669.3h0M96.8 668.5h0M97.6 667.9h0M98.4 666.6h0M99.3 666.1h0M100.1 665.2h0M100.9 660.2h0M101.7 652.7h0M102.6 640.5h0M103.4 617.5h0M104.2 598.9h0M105.1 582h0M105.9 567.3h0M106.7 555.2h0M107.5 547.9h0M108.4 541.6h0M109.2 531.1h0M110 520.9h0M110.8 513.5h0M111.7 506.7h0M112.5 506.2h0M113.3 510.7h0M114.2 515.4h0M115 521.5h0M115.8 527.6h0M116.6 533h0M117.5 538.3h0M118.3 543.1h0M119.1 548.6h0M119.9 552.1h0M120.8 555.9h0M121.6 559.7h0M122.4 563h0M123.3 566.2h0M124.1 569.3h0M124.9 572.3h0M125.7 575.2h0M126.6 578h0M127.4 580.7h0M128.2 583.3h0M129 585.7h0M129.9 588.1h0M130.7 590.4h0M131.5 592.6h0M132.4 594.7h0M133.2 596.7h0M134 598.8h0M134.8 600.7h0M135.7 602.7h0M136.5 604.5h0M137.3 606.3h0M138.1 608.1h0M139 609.9h0M139.8 611.6h0M140.6 613.3h0M141.5 615h0M142.3 616.7h0M143.1 618.3h0M143.9 619.9h0M144.8 621.5h0M145.6 623h0M146.4 624.5h0M147.2 625.9h0M148.1 627.4h0M148.9 628.7h0M149.7 630h0M150.6 631.2h0M151.4 632.4h0M152.2 633.5h0M153 634.7h0M153.9 635.8h0M154.7 636.8h0M155.5 637.8h0M156.3 638.7h0M157.2 639.6h0M158 640.5h0M158.8 641.4h0M159.7 642.3h0M160.5 643.2h0M161.3 644h0M162.1 644.8h0M163 645.6h0M163.8 646.3h0M164.6 647.1h0M165.4 647.8h0M166.3 648.6h0M167.1 649.3h0M167.9 650h0M168.8 650.7h0M169.6 651.3h0M170.4 651.9h0M171.2 652.6h0M172.1 653.2h0M172.9 653.8h0M173.7 654.4h0M174.5 655h0M175.4 655.6h0M176.2 656.1h0M177 656.7h0M177.8 657.2h0M178.7 657.8h0M179.5 658.3h0M180.3 658.8h0M181.2 659.3h0M182 659.8h0M182.8 660.2h0M183.6 660.6h0M184.5 661h0M185.3 661.4h0M186.1 661.9h0M186.9 662.3h0M187.8 662.7h0M188.6 663.1h0M189.4 663.4h0M190.3 663.8h0M191.1 664.2h0M191.9 664.6h0M192.7 664.9h0M193.6 665.3h0M194.4 665.7h0M195.2 666h0M196 666.4h0M196.9 666.8h0M197.7 667.1h0M198.5 667.5h0M199.4 667.9h0M200.2 668.2h0M201 668.6h0M201.8 668.9h0M202.7 669.3h0M203.5 669.6h0M204.3 669.9h0M205.1 670.2h0M206 670.5h0M206.8 670.7h0M207.6 671h0M208.5 671.3h0M209.3 671.6h0M210.1 671.9h0M210.9 672.1h0M211.8 672.3h0M212.6 672.6h0M213.4 672.8h0M214.2 673h0M215.1 673.2h0M215.9 673.5h0M216.7 673.7h0M217.6 673.9h0M218.4 674h0M219.2 674.2h0M220 674.3h0M220.9 674.5h0M221.7 674.6h0M222.5 674.8h0M223.3 674.9h0M224.2 675h0M225 675.2h0M225.8 675.3h0M226.7 675.4h0M227.5 675.5h0M228.3 675.7h0M229.1 675.8h0M230 675.9h0M230.8 676h0M231.6 676.2h0M232.4 676.3h0M233.3 676.4h0M234.1 676.5h0M234.9 676.7h0M235.8 676.8h0M236.6 676.9h0M237.4 677h0M238.2 677.1h0M239.1 677.3h0M239.9 677.4h0M240.7 677.5h0M241.5 677.6h0M242.4 677.8h0M243.2 677.9h0M244 678h0M244.9 678.1h0M245.7 678.2h0M246.5 678.4h0M247.3 678.5h0M248.2 678.6h0M249 678.7h0M249.8 678.9h0M250.6 679h0M251.5 679.1h0M252.3 679.2h0M253.1 679.4h0M254 679.5h0M254.8 679.6h0M255.6 679.7h0M256.4 679.9h0M257.3 680h0M258.1 680.1h0M258.9 680.2h0M259.7 680.4h0M260.6 680.5h0M261.4 680.6h0M262.2 680.8h0M263.1 680.9h0M263.9 681.1h0M264.7 681.2h0M265.5 681.4h0M266.4 681.5h0M267.2 681.7h0M268 681.8h0M268.8 682h0M269.7 682.1h0M270.5 682.3h0M271.3 682.4h0M272.2 682.6h0M273 682.7h0M273.8 682.8h0M274.6 683h0M275.5 683.1h0M276.3 683.2h0M277.1 683.2h0M277.9 683.3h0M278.8 683.4h0M279.6 683.5h0M280.4 683.6h0M281.3 683.7h0M282.1 683.7h0M282.9 683.8h0M283.7 683.9h0M284.6 684h0M285.4 684.1h0M286.2 684.2h0M287 684.2h0M287.9 684.3h0M288.7 684.4h0M289.5 684.4h0M290.4 684.5h0M291.2 684.6h0M292 684.6h0M292.8 684.7h0M293.7 684.8h0M294.5 684.8h0M295.3 684.9h0M296.1 685h0M297 685h0M297.8 685.1h0M298.6 685.1h0M299.5 685.2h0M300.3 685.2h0M301.1 685.3h0M301.9 685.3h0M302.8 685.4h0M303.6 685.4h0M304.4 685.4h0M305.2 685.5h0M306.1 685.5h0M306.9 685.5h0M307.7 685.6h0M308.6 685.6h0M309.4 685.6h0M310.2 685.7h0M311 685.7h0M311.9 685.8h0M312.7 685.8h0M313.5 685.8h0M314.3 685.9h0M315.2 685.9h0M316 685.9h0M316.8 686h0M317.7 686h0M318.5 686.1h0M319.3 686.1h0M320.1 686.1h0M321 686.1h0M321.8 686.2h0M322.6 686.2h0M323.4 686.2h0M324.3 686.2h0M325.1 686.3h0M325.9 686.3h0M326.8 686.3h0M327.6 686.3h0M328.4 686.4h0M329.2 686.4h0M330.1 686.4h0M330.9 686.4h0M331.7 686.5h0M332.5 686.5h0M333.4 686.5h0M334.2 686.5h0M335 686.6h0M335.9 686.6h0M336.7 686.6h0M337.5 686.6h0M338.3 686.7h0M339.2 686.7h0M340 686.7h0M340.8 686.7h0M341.6 686.8h0M342.5 686.8h0M343.3 686.8h0M344.1 686.9h0M345 686.9h0M345.8 686.9h0M346.6 686.9h0M347.4 687h0M348.3 687h0M349.1 687h0M349.9 687h0M350.7 687.1h0M351.6 687.1h0M352.4 687.1h0M353.2 687.1h0M354.1 687.2h0M354.9 687.2h0M355.7 687.2h0M356.5 687.2h0M357.4 687.3h0M358.2 687.3h0M359 687.3h0M359.8 687.3h0M360.7 687.4h0M361.5 687.4h0M362.3 687.4h0M363.2 687.4h0M364 687.5h0M364.8 687.5h0M365.6 687.5h0M366.5 687.5h0M367.3 687.6h0M368.1 687.6h0M368.9 687.6h0M369.8 687.6h0M370.6 687.7h0M371.4 687.7h0M372.3 687.7h0M373.1 687.7h0M373.9 687.8h0M374.7 687.8h0M375.6 687.8h0M376.4 687.8h0M377.2 687.9h0M378 687.9h0M378.9 687.9h0M379.7 687.9h0M380.5 687.9h0M381.4 687.9h0M382.2 687.9h0M383 687.9h0M383.8 687.9h0M384.7 688h0M385.5 688h0M386.3 688h0M387.1 688h0M388 688h0M388.8 688h0M389.6 688h0M390.5 688h0M391.3 688h0M392.1 688h0M392.9 688h0M393.8 688h0M394.6 688h0M395.4 688h0M396.2 688h0M397.1 688.1h0M397.9 688.1h0M398.7 688.1h0M399.6 688.1h0M400.4 688.1h0M401.2 688.1h0M402 688.1h0M402.9 688.1h0M403.7 688.1h0M404.5 688.1h0M405.3 688.1h0M406.2 688.1h0M407 688.1h0M407.8 688.1h0M408.6 688.2h0M409.5 688.2h0M410.3 688.2h0M411.1 688.2h0M412 688.2h0M412.8 688.2h0M413.6 688.2h0M414.4 688.2h0M415.3 688.2h0M416.1 688.2h0M416.9 688.2h0M417.7 688.2h0M418.6 688.2h0M419.4 688.2h0M420.2 688.3h0M421.1 688.3h0M421.9 688.3h0M422.7 688.3h0M423.5 688.3h0M424.4 688.3h0M425.2 688.3h0M426 688.3h0M426.8 688.3h0M427.7 688.3h0M428.5 688.3h0M429.3 688.3h0M430.2 688.3h0M431 688.3h0M431.8 688.4h0M432.6 688.4h0M433.5 688.4h0M434.3 688.4h0M435.1 688.4h0M435.9 688.4h0M436.8 688.4h0M437.6 688.4h0M438.4 688.4h0M439.3 688.4h0M440.1 688.4h0M440.9 688.4h0M441.7 688.4h0M442.6 688.4h0M443.4 688.4h0M444.2 688.5h0M445 688.5h0M445.9 688.5h0M446.7 688.5h0M447.5 688.5h0M448.4 688.5h0M449.2 688.5h0M450 688.5h0M450.8 688.5h0M451.7 688.5h0M452.5 688.5h0M453.3 688.5h0M454.1 688.5h0M455 688.4h0M455.8 688.4h0M456.6 688.4h0M457.5 688.4h0M458.3 688.4h0M459.1 688.4h0M459.9 688.4h0M460.8 688.4h0M461.6 688.4h0M462.4 688.4h0M463.2 688.4h0M464.1 688.4h0M464.9 688.3h0M465.7 688.3h0M466.6 688.3h0M467.4 688.3h0M468.2 688.3h0M469 688.3h0M469.9 688.3h0M470.7 688.3h0M471.5 688.3h0M472.3 688.3h0M473.2 688.3h0M474 688.3h0M474.8 688.2h0M475.7 688.2h0M476.5 688.2h0M477.3 688.2h0M478.1 688.2h0M479 688.2h0M479.8 688.2h0M480.6 688.2h0M481.4 688.2h0M482.3 688.2h0M483.1 688.2h0M483.9 688.2h0M484.8 688.2h0M485.6 688.1h0M486.4 688.1h0M487.2 688.1h0M488.1 688.1h0M488.9 688.1h0M489.7 688.1h0M490.5 688.1h0M491.4 688.1h0M492.2 688.1h0M493 688.1h0M493.9 688.1h0M494.7 688.1h0M495.5 688h0M496.3 688h0M497.2 688h0M498 688h0M498.8 688h0M499.6 688h0M500.5 688h0M501.3 688.1h0M502.1 688.1h0M503 688.1h0M503.8 688.1h0M504.6 688.2h0M505.4 688.2h0M506.3 688.2h0M507.1 688.3h0M507.9 688.3h0M508.7 688.3h0M509.6 688.4h0M510.4 688.4h0M511.2 688.4h0M512.1 688.5h0M512.9 688.5h0M513.7 688.5h0M514.5 688.6h0M515.4 688.6h0M516.2 688.6h0M517 688.7h0M517.8 688.7h0M518.7 688.7h0M519.5 688.8h0M520.3 688.8h0M521.2 688.8h0M522 688.8h0M522.8 688.9h0M523.6 688.9h0M524.5 688.9h0M525.3 689h0M526.1 689h0M526.9 689h0M527.8 689.1h0M528.6 689.1h0" stroke="#bfbfbf" stroke-width="3.4" stroke-linecap="square" fill="none"/>
<path d="M51.3 680.3l2.5 3.6h-4.9zM52.1 670.6l2.5 3.6h-4.9zM52.9 663.4l2.5 3.6h-4.9zM53.8 658.9l2.5 3.6h-4.9zM54.6 655.6l2.5 3.6h-4.9zM55.4 653.2l2.5 3.6h-4.9zM56.2 652.7l2.5 3.6h-4.9zM57.1 651.1l2.5 3.6h-4.9zM57.9 651.8l2.5 3.6h-4.9zM58.7 650.7l2.5 3.6h-4.9zM59.6 650.7l2.5 3.6h-4.9zM60.4 650.4l2.5 3.6h-4.9zM61.2 650.7l2.5 3.6h-4.9zM62 650.7l2.5 3.6h-4.9zM62.9 649.4l2.5 3.6h-4.9zM63.7 650.5l2.5 3.6h-4.9zM64.5 650.2l2.5 3.6h-4.9zM65.3 650.1l2.5 3.6h-4.9zM66.2 649.9l2.5 3.6h-4.9zM67 647.7l2.5 3.6h-4.9zM67.8 649.3l2.5 3.6h-4.9zM68.7 646.8l2.5 3.6h-4.9zM69.5 646.9l2.5 3.6h-4.9zM70.3 647.4l2.5 3.6h-4.9zM71.1 647.7l2.5 3.6h-4.9zM72 647.3l2.5 3.6h-4.9zM72.8 647l2.5 3.6h-4.9zM73.6 647l2.5 3.6h-4.9zM74.4 645.8l2.5 3.6h-4.9zM75.3 646.4l2.5 3.6h-4.9zM76.1 647.7l2.5 3.6h-4.9zM76.9 644.6l2.5 3.6h-4.9zM77.8 645.8l2.5 3.6h-4.9zM78.6 645.8l2.5 3.6h-4.9zM79.4 645.1l2.5 3.6h-4.9zM80.2 645.5l2.5 3.6h-4.9zM81.1 645.5l2.5 3.6h-4.9zM81.9 645.1l2.5 3.6h-4.9zM82.7 645.1l2.5 3.6h-4.9zM83.5 644.2l2.5 3.6h-4.9zM84.4 644.9l2.5 3.6h-4.9zM85.2 643.9l2.5 3.6h-4.9zM86 643.4l2.5 3.6h-4.9zM86.9 645l2.5 3.6h-4.9zM87.7 643.1l2.5 3.6h-4.9zM88.5 642.9l2.5 3.6h-4.9zM89.3 641.8l2.5 3.6h-4.9zM90.2 643l2.5 3.6h-4.9zM91 642l2.5 3.6h-4.9zM91.8 642l2.5 3.6h-4.9zM92.6 642.7l2.5 3.6h-4.9zM93.5 642.4l2.5 3.6h-4.9zM94.3 641.5l2.5 3.6h-4.9zM95.1 642l2.5 3.6h-4.9zM96 641.3l2.5 3.6h-4.9zM96.8 640.4l2.5 3.6h-4.9zM97.6 639.4l2.5 3.6h-4.9zM98.4 639.4l2.5 3.6h-4.9zM99.3 637l2.5 3.6h-4.9zM100.1 636.7l2.5 3.6h-4.9zM100.9 633.9l2.5 3.6h-4.9zM101.7 628.7l2.5 3.6h-4.9zM102.6 607l2.5 3.6h-4.9zM103.4 579.9l2.5 3.6h-4.9zM104.2 568.1l2.5 3.6h-4.9zM105.1 549.7l2.5 3.6h-4.9zM105.9 532.5l2.5 3.6h-4.9zM106.7 523.8l2.5 3.6h-4.9zM107.5 517.1l2.5 3.6h-4.9zM108.4 508.1l2.5 3.6h-4.9zM109.2 495.3l2.5 3.6h-4.9zM110 476.7l2.5 3.6h-4.9zM110.8 463.3l2.5 3.6h-4.9zM111.7 451.3l2.5 3.6h-4.9zM112.5 445.5l2.5 3.6h-4.9zM113.3 442.1l2.5 3.6h-4.9zM114.2 444.3l2.5 3.6h-4.9zM115 450.3l2.5 3.6h-4.9zM115.8 455.4l2.5 3.6h-4.9zM116.6 459.9l2.5 3.6h-4.9zM117.5 467.1l2.5 3.6h-4.9zM118.3 472.8l2.5 3.6h-4.9zM119.1 477.2l2.5 3.6h-4.9zM119.9 481.7l2.5 3.6h-4.9zM120.8 486.7l2.5 3.6h-4.9zM121.6 490.9l2.5 3.6h-4.9zM122.4 494.7l2.5 3.6h-4.9zM123.3 498.2l2.5 3.6h-4.9zM124.1 501.1l2.5 3.6h-4.9zM124.9 503.6l2.5 3.6h-4.9zM125.7 506l2.5 3.6h-4.9zM126.6 507.7l2.5 3.6h-4.9zM127.4 509.4l2.5 3.6h-4.9zM128.2 511.1l2.5 3.6h-4.9zM129 512.7l2.5 3.6h-4.9zM129.9 514.4l2.5 3.6h-4.9zM130.7 516.1l2.5 3.6h-4.9zM131.5 517.8l2.5 3.6h-4.9zM132.4 519.5l2.5 3.6h-4.9zM133.2 521.2l2.5 3.6h-4.9zM134 523l2.5 3.6h-4.9zM134.8 524.7l2.5 3.6h-4.9zM135.7 526.4l2.5 3.6h-4.9zM136.5 528.1l2.5 3.6h-4.9zM137.3 529.9l2.5 3.6h-4.9zM138.1 531.8l2.5 3.6h-4.9zM139 533.7l2.5 3.6h-4.9zM139.8 535.6l2.5 3.6h-4.9zM140.6 537.5l2.5 3.6h-4.9zM141.5 539.5l2.5 3.6h-4.9zM142.3 541.5l2.5 3.6h-4.9zM143.1 543.6l2.5 3.6h-4.9zM143.9 545.6l2.5 3.6h-4.9zM144.8 547.7l2.5 3.6h-4.9zM145.6 549.8l2.5 3.6h-4.9zM146.4 551.9l2.5 3.6h-4.9zM147.2 554l2.5 3.6h-4.9zM148.1 556.1l2.5 3.6h-4.9zM148.9 558.3l2.5 3.6h-4.9zM149.7 560.5l2.5 3.6h-4.9zM150.6 562.6l2.5 3.6h-4.9zM151.4 564.8l2.5 3.6h-4.9zM152.2 567l2.5 3.6h-4.9zM153 569.2l2.5 3.6h-4.9zM153.9 571.4l2.5 3.6h-4.9zM154.7 573.6l2.5 3.6h-4.9zM155.5 575.7l2.5 3.6h-4.9zM156.3 577.9l2.5 3.6h-4.9zM157.2 580.1l2.5 3.6h-4.9zM158 582.3l2.5 3.6h-4.9zM158.8 584.5l2.5 3.6h-4.9zM159.7 586.7l2.5 3.6h-4.9zM160.5 588.9l2.5 3.6h-4.9zM161.3 591l2.5 3.6h-4.9zM162.1 593.2l2.5 3.6h-4.9zM163 595.2l2.5 3.6h-4.9zM163.8 597.3l2.5 3.6h-4.9zM164.6 599.2l2.5 3.6h-4.9zM165.4 601.1l2.5 3.6h-4.9zM166.3 602.8l2.5 3.6h-4.9zM167.1 604.6l2.5 3.6h-4.9zM167.9 606.3l2.5 3.6h-4.9zM168.8 607.9l2.5 3.6h-4.9zM169.6 609.4l2.5 3.6h-4.9zM170.4 610.9l2.5 3.6h-4.9zM171.2 612.4l2.5 3.6h-4.9zM172.1 613.7l2.5 3.6h-4.9zM172.9 615l2.5 3.6h-4.9zM173.7 616.1l2.5 3.6h-4.9zM174.5 617.2l2.5 3.6h-4.9zM175.4 618.3l2.5 3.6h-4.9zM176.2 619.3l2.5 3.6h-4.9zM177 620.3l2.5 3.6h-4.9zM177.8 621.3l2.5 3.6h-4.9zM178.7 622.2l2.5 3.6h-4.9zM179.5 623.2l2.5 3.6h-4.9zM180.3 624.1l2.5 3.6h-4.9zM181.2 625l2.5 3.6h-4.9zM182 625.8l2.5 3.6h-4.9zM182.8 626.6l2.5 3.6h-4.9zM183.6 627.4l2.5 3.6h-4.9zM184.5 628.1l2.5 3.6h-4.9zM185.3 628.7l2.5 3.6h-4.9zM186.1 629.3l2.5 3.6h-4.9zM186.9 629.9l2.5 3.6h-4.9zM187.8 630.5l2.5 3.6h-4.9zM188.6 631l2.5 3.6h-4.9zM189.4 631.6l2.5 3.6h-4.9zM190.3 632.1l2.5 3.6h-4.9zM191.1 632.6l2.5 3.6h-4.9zM191.9 633l2.5 3.6h-4.9zM192.7 633.5l2.5 3.6h-4.9zM193.6 634l2.5 3.6h-4.9zM194.4 634.5l2.5 3.6h-4.9zM195.2 634.9l2.5 3.6h-4.9zM196 635.3l2.5 3.6h-4.9zM196.9 635.7l2.5 3.6h-4.9zM197.7 636l2.5 3.6h-4.9zM198.5 636.4l2.5 3.6h-4.9zM199.4 636.8l2.5 3.6h-4.9zM200.2 637.2l2.5 3.6h-4.9zM201 637.5l2.5 3.6h-4.9zM201.8 637.9l2.5 3.6h-4.9zM202.7 638.2l2.5 3.6h-4.9zM203.5 638.4l2.5 3.6h-4.9zM204.3 638.7l2.5 3.6h-4.9zM205.1 638.9l2.5 3.6h-4.9zM206 639.2l2.5 3.6h-4.9zM206.8 639.4l2.5 3.6h-4.9zM207.6 639.6l2.5 3.6h-4.9zM208.5 639.9l2.5 3.6h-4.9zM209.3 640.1l2.5 3.6h-4.9zM210.1 640.2l2.5 3.6h-4.9zM210.9 640.4l2.5 3.6h-4.9zM211.8 640.5l2.5 3.6h-4.9zM212.6 640.7l2.5 3.6h-4.9zM213.4 640.8l2.5 3.6h-4.9zM214.2 640.9l2.5 3.6h-4.9zM215.1 641l2.5 3.6h-4.9zM215.9 641.2l2.5 3.6h-4.9zM216.7 641.3l2.5 3.6h-4.9zM217.6 641.3l2.5 3.6h-4.9zM218.4 641.4l2.5 3.6h-4.9zM219.2 641.4l2.5 3.6h-4.9zM220 641.5l2.5 3.6h-4.9zM220.9 641.5l2.5 3.6h-4.9zM221.7 641.5l2.5 3.6h-4.9zM222.5 641.6l2.5 3.6h-4.9zM223.3 641.6l2.5 3.6h-4.9zM224.2 641.6l2.5 3.6h-4.9zM225 641.7l2.5 3.6h-4.9zM225.8 641.7l2.5 3.6h-4.9zM226.7 641.8l2.5 3.6h-4.9zM227.5 641.8l2.5 3.6h-4.9zM228.3 641.9l2.5 3.6h-4.9zM229.1 642l2.5 3.6h-4.9zM230 642l2.5 3.6h-4.9zM230.8 642.1l2.5 3.6h-4.9zM231.6 642.1l2.5 3.6h-4.9zM232.4 642.2l2.5 3.6h-4.9zM233.3 642.3l2.5 3.6h-4.9zM234.1 642.4l2.5 3.6h-4.9zM234.9 642.5l2.5 3.6h-4.9zM235.8 642.6l2.5 3.6h-4.9zM236.6 642.6l2.5 3.6h-4.9zM237.4 642.7l2.5 3.6h-4.9zM238.2 642.8l2.5 3.6h-4.9zM239.1 642.9l2.5 3.6h-4.9zM239.9 642.9l2.5 3.6h-4.9zM240.7 642.9l2.5 3.6h-4.9zM241.5 642.9l2.5 3.6h-4.9zM242.4 642.9l2.5 3.6h-4.9zM243.2 642.9l2.5 3.6h-4.9zM244 642.9l2.5 3.6h-4.9zM244.9 642.9l2.5 3.6h-4.9zM245.7 642.9l2.5 3.6h-4.9zM246.5 642.9l2.5 3.6h-4.9zM247.3 642.8l2.5 3.6h-4.9zM248.2 642.6l2.5 3.6h-4.9zM249 642.5l2.5 3.6h-4.9zM249.8 642.3l2.5 3.6h-4.9zM250.6 642.1l2.5 3.6h-4.9zM251.5 642l2.5 3.6h-4.9zM252.3 641.8l2.5 3.6h-4.9zM253.1 641.6l2.5 3.6h-4.9zM254 641.4l2.5 3.6h-4.9zM254.8 641.2l2.5 3.6h-4.9zM255.6 640.9l2.5 3.6h-4.9zM256.4 640.6l2.5 3.6h-4.9zM257.3 640.3l2.5 3.6h-4.9zM258.1 640.1l2.5 3.6h-4.9zM258.9 639.8l2.5 3.6h-4.9zM259.7 639.5l2.5 3.6h-4.9zM260.6 639.2l2.5 3.6h-4.9zM261.4 638.9l2.5 3.6h-4.9zM262.2 638.6l2.5 3.6h-4.9zM263.1 638.4l2.5 3.6h-4.9zM263.9 638.1l2.5 3.6h-4.9zM264.7 637.8l2.5 3.6h-4.9zM265.5 637.5l2.5 3.6h-4.9zM266.4 637.2l2.5 3.6h-4.9zM267.2 636.9l2.5 3.6h-4.9zM268 636.6l2.5 3.6h-4.9zM268.8 636.3l2.5 3.6h-4.9zM269.7 636l2.5 3.6h-4.9zM270.5 635.7l2.5 3.6h-4.9zM271.3 635.4l2.5 3.6h-4.9zM272.2 635.1l2.5 3.6h-4.9zM273 634.9l2.5 3.6h-4.9zM273.8 634.6l2.5 3.6h-4.9zM274.6 634.4l2.5 3.6h-4.9zM275.5 634.2l2.5 3.6h-4.9zM276.3 634l2.5 3.6h-4.9zM277.1 633.9l2.5 3.6h-4.9zM277.9 633.8l2.5 3.6h-4.9zM278.8 633.7l2.5 3.6h-4.9zM279.6 633.6l2.5 3.6h-4.9zM280.4 633.4l2.5 3.6h-4.9zM281.3 633.3l2.5 3.6h-4.9zM282.1 633.2l2.5 3.6h-4.9zM282.9 633l2.5 3.6h-4.9zM283.7 632.9l2.5 3.6h-4.9zM284.6 632.8l2.5 3.6h-4.9zM285.4 632.6l2.5 3.6h-4.9zM286.2 632.5l2.5 3.6h-4.9zM287 632.4l2.5 3.6h-4.9zM287.9 632.3l2.5 3.6h-4.9zM288.7 632.2l2.5 3.6h-4.9zM289.5 632.1l2.5 3.6h-4.9zM290.4 632.1l2.5 3.6h-4.9zM291.2 632.1l2.5 3.6h-4.9zM292 632l2.5 3.6h-4.9zM292.8 632l2.5 3.6h-4.9zM293.7 631.9l2.5 3.6h-4.9zM294.5 631.9l2.5 3.6h-4.9zM295.3 631.8l2.5 3.6h-4.9zM296.1 631.8l2.5 3.6h-4.9zM297 631.7l2.5 3.6h-4.9zM297.8 631.7l2.5 3.6h-4.9zM298.6 631.6l2.5 3.6h-4.9zM299.5 631.5l2.5 3.6h-4.9zM300.3 631.4l2.5 3.6h-4.9zM301.1 631.4l2.5 3.6h-4.9zM301.9 631.3l2.5 3.6h-4.9zM302.8 631.3l2.5 3.6h-4.9zM303.6 631.4l2.5 3.6h-4.9zM304.4 631.6l2.5 3.6h-4.9zM305.2 631.8l2.5 3.6h-4.9zM306.1 632.1l2.5 3.6h-4.9zM306.9 632.4l2.5 3.6h-4.9zM307.7 632.7l2.5 3.6h-4.9zM308.6 633.1l2.5 3.6h-4.9zM309.4 633.4l2.5 3.6h-4.9zM310.2 633.9l2.5 3.6h-4.9zM311 634.3l2.5 3.6h-4.9zM311.9 634.8l2.5 3.6h-4.9zM312.7 635.3l2.5 3.6h-4.9zM313.5 635.8l2.5 3.6h-4.9zM314.3 636.3l2.5 3.6h-4.9zM315.2 636.8l2.5 3.6h-4.9zM316 637.3l2.5 3.6h-4.9zM316.8 637.8l2.5 3.6h-4.9zM317.7 638.3l2.5 3.6h-4.9zM318.5 638.9l2.5 3.6h-4.9zM319.3 639.4l2.5 3.6h-4.9zM320.1 639.9l2.5 3.6h-4.9zM321 640.5l2.5 3.6h-4.9zM321.8 641l2.5 3.6h-4.9zM322.6 641.5l2.5 3.6h-4.9zM323.4 642.1l2.5 3.6h-4.9zM324.3 642.6l2.5 3.6h-4.9zM325.1 643.2l2.5 3.6h-4.9zM325.9 643.7l2.5 3.6h-4.9zM326.8 644.2l2.5 3.6h-4.9zM327.6 644.6l2.5 3.6h-4.9zM328.4 644.8l2.5 3.6h-4.9zM329.2 645.1l2.5 3.6h-4.9zM330.1 645.3l2.5 3.6h-4.9zM330.9 645.5l2.5 3.6h-4.9zM331.7 645.7l2.5 3.6h-4.9zM332.5 646l2.5 3.6h-4.9zM333.4 646.2l2.5 3.6h-4.9zM334.2 646.4l2.5 3.6h-4.9zM335 646.6l2.5 3.6h-4.9zM335.9 646.9l2.5 3.6h-4.9zM336.7 647.1l2.5 3.6h-4.9zM337.5 647.3l2.5 3.6h-4.9zM338.3 647.5l2.5 3.6h-4.9zM339.2 647.8l2.5 3.6h-4.9zM340 648l2.5 3.6h-4.9zM340.8 648.2l2.5 3.6h-4.9zM341.6 648.4l2.5 3.6h-4.9zM342.5 648.7l2.5 3.6h-4.9zM343.3 648.9l2.5 3.6h-4.9zM344.1 649.1l2.5 3.6h-4.9zM345 649.4l2.5 3.6h-4.9zM345.8 649.6l2.5 3.6h-4.9zM346.6 649.9l2.5 3.6h-4.9zM347.4 650.1l2.5 3.6h-4.9zM348.3 650.4l2.5 3.6h-4.9zM349.1 650.6l2.5 3.6h-4.9zM349.9 650.9l2.5 3.6h-4.9zM350.7 651.1l2.5 3.6h-4.9zM351.6 651.4l2.5 3.6h-4.9zM352.4 651.6l2.5 3.6h-4.9zM353.2 651.8l2.5 3.6h-4.9zM354.1 652.1l2.5 3.6h-4.9zM354.9 652.3l2.5 3.6h-4.9zM355.7 652.5l2.5 3.6h-4.9zM356.5 652.8l2.5 3.6h-4.9zM357.4 653l2.5 3.6h-4.9zM358.2 653.2l2.5 3.6h-4.9zM359 653.4l2.5 3.6h-4.9zM359.8 653.6l2.5 3.6h-4.9zM360.7 653.8l2.5 3.6h-4.9zM361.5 654l2.5 3.6h-4.9zM362.3 654.2l2.5 3.6h-4.9zM363.2 654.4l2.5 3.6h-4.9zM364 654.6l2.5 3.6h-4.9zM364.8 654.8l2.5 3.6h-4.9zM365.6 655.1l2.5 3.6h-4.9zM366.5 655.3l2.5 3.6h-4.9zM367.3 655.6l2.5 3.6h-4.9zM368.1 655.8l2.5 3.6h-4.9zM368.9 656.1l2.5 3.6h-4.9zM369.8 656.4l2.5 3.6h-4.9zM370.6 656.8l2.5 3.6h-4.9zM371.4 657.1l2.5 3.6h-4.9zM372.3 657.4l2.5 3.6h-4.9zM373.1 657.7l2.5 3.6h-4.9zM373.9 658l2.5 3.6h-4.9zM374.7 658.3l2.5 3.6h-4.9zM375.6 658.6l2.5 3.6h-4.9zM376.4 658.9l2.5 3.6h-4.9zM377.2 659.2l2.5 3.6h-4.9zM378 659.5l2.5 3.6h-4.9zM378.9 659.8l2.5 3.6h-4.9zM379.7 660.1l2.5 3.6h-4.9zM380.5 660.5l2.5 3.6h-4.9zM381.4 660.8l2.5 3.6h-4.9zM382.2 661.1l2.5 3.6h-4.9zM383 661.4l2.5 3.6h-4.9zM383.8 661.7l2.5 3.6h-4.9zM384.7 662l2.5 3.6h-4.9zM385.5 662.3l2.5 3.6h-4.9zM386.3 662.6l2.5 3.6h-4.9zM387.1 662.9l2.5 3.6h-4.9zM388 663.2l2.5 3.6h-4.9zM388.8 663.5l2.5 3.6h-4.9zM389.6 663.9l2.5 3.6h-4.9zM390.5 664.2l2.5 3.6h-4.9zM391.3 664.5l2.5 3.6h-4.9zM392.1 664.8l2.5 3.6h-4.9zM392.9 665.1l2.5 3.6h-4.9zM393.8 665.4l2.5 3.6h-4.9zM394.6 665.7l2.5 3.6h-4.9zM395.4 666.1l2.5 3.6h-4.9zM396.2 666.4l2.5 3.6h-4.9zM397.1 666.7l2.5 3.6h-4.9zM397.9 667l2.5 3.6h-4.9zM398.7 667.3l2.5 3.6h-4.9zM399.6 667.6l2.5 3.6h-4.9zM400.4 667.9l2.5 3.6h-4.9zM401.2 668.3l2.5 3.6h-4.9zM402 668.6l2.5 3.6h-4.9zM402.9 668.8l2.5 3.6h-4.9zM403.7 669.1l2.5 3.6h-4.9zM404.5 669.4l2.5 3.6h-4.9zM405.3 669.7l2.5 3.6h-4.9zM406.2 669.9l2.5 3.6h-4.9zM407 670.2l2.5 3.6h-4.9zM407.8 670.5l2.5 3.6h-4.9zM408.6 670.7l2.5 3.6h-4.9zM409.5 671l2.5 3.6h-4.9zM410.3 671.2l2.5 3.6h-4.9zM411.1 671.5l2.5 3.6h-4.9zM412 671.8l2.5 3.6h-4.9zM412.8 672l2.5 3.6h-4.9zM413.6 672.3l2.5 3.6h-4.9zM414.4 672.5l2.5 3.6h-4.9zM415.3 672.7l2.5 3.6h-4.9zM416.1 672.9l2.5 3.6h-4.9zM416.9 673.1l2.5 3.6h-4.9zM417.7 673.3l2.5 3.6h-4.9zM418.6 673.5l2.5 3.6h-4.9zM419.4 673.7l2.5 3.6h-4.9zM420.2 673.9l2.5 3.6h-4.9zM421.1 674.1l2.5 3.6h-4.9zM421.9 674.2l2.5 3.6h-4.9zM422.7 674.4l2.5 3.6h-4.9zM423.5 674.6l2.5 3.6h-4.9zM424.4 674.8l2.5 3.6h-4.9zM425.2 675l2.5 3.6h-4.9zM426 675.2l2.5 3.6h-4.9zM426.8 675.3l2.5 3.6h-4.9zM427.7 675.5l2.5 3.6h-4.9zM428.5 675.7l2.5 3.6h-4.9zM429.3 675.8l2.5 3.6h-4.9zM430.2 676l2.5 3.6h-4.9zM431 676.2l2.5 3.6h-4.9zM431.8 676.3l2.5 3.6h-4.9zM432.6 676.5l2.5 3.6h-4.9zM433.5 676.6l2.5 3.6h-4.9zM434.3 676.8l2.5 3.6h-4.9zM435.1 677l2.5 3.6h-4.9zM435.9 677.1l2.5 3.6h-4.9zM436.8 677.3l2.5 3.6h-4.9zM437.6 677.4l2.5 3.6h-4.9zM438.4 677.5l2.5 3.6h-4.9zM439.3 677.6l2.5 3.6h-4.9zM440.1 677.8l2.5 3.6h-4.9zM440.9 677.9l2.5 3.6h-4.9zM441.7 678l2.5 3.6h-4.9zM442.6 678.1l2.5 3.6h-4.9zM443.4 678.2l2.5 3.6h-4.9zM444.2 678.3l2.5 3.6h-4.9zM445 678.4l2.5 3.6h-4.9zM445.9 678.5l2.5 3.6h-4.9zM446.7 678.6l2.5 3.6h-4.9zM447.5 678.7l2.5 3.6h-4.9zM448.4 678.8l2.5 3.6h-4.9zM449.2 678.9l2.5 3.6h-4.9zM450 679l2.5 3.6h-4.9zM450.8 679.1l2.5 3.6h-4.9zM451.7 679.1l2.5 3.6h-4.9zM452.5 679.2l2.5 3.6h-4.9zM453.3 679.3l2.5 3.6h-4.9zM454.1 679.3l2.5 3.6h-4.9zM455 679.4l2.5 3.6h-4.9zM455.8 679.5l2.5 3.6h-4.9zM456.6 679.5l2.5 3.6h-4.9zM457.5 679.6l2.5 3.6h-4.9zM458.3 679.7l2.5 3.6h-4.9zM459.1 679.7l2.5 3.6h-4.9zM459.9 679.8l2.5 3.6h-4.9zM460.8 679.9l2.5 3.6h-4.9zM461.6 679.9l2.5 3.6h-4.9zM462.4 680l2.5 3.6h-4.9zM463.2 680.1l2.5 3.6h-4.9zM464.1 680.1l2.5 3.6h-4.9zM464.9 680.1l2.5 3.6h-4.9zM465.7 680.2l2.5 3.6h-4.9zM466.6 680.2l2.5 3.6h-4.9zM467.4 680.2l2.5 3.6h-4.9zM468.2 680.2l2.5 3.6h-4.9zM469 680.3l2.5 3.6h-4.9zM469.9 680.3l2.5 3.6h-4.9zM470.7 680.3l2.5 3.6h-4.9zM471.5 680.3l2.5 3.6h-4.9zM472.3 680.4l2.5 3.6h-4.9zM473.2 680.4l2.5 3.6h-4.9zM474 680.4l2.5 3.6h-4.9zM474.8 680.4l2.5 3.6h-4.9zM475.7 680.4l2.5 3.6h-4.9zM476.5 680.5l2.5 3.6h-4.9zM477.3 680.5l2.5 3.6h-4.9zM478.1 680.5l2.5 3.6h-4.9zM479 680.5l2.5 3.6h-4.9zM479.8 680.6l2.5 3.6h-4.9zM480.6 680.6l2.5 3.6h-4.9zM481.4 680.6l2.5 3.6h-4.9zM482.3 680.6l2.5 3.6h-4.9zM483.1 680.7l2.5 3.6h-4.9zM483.9 680.7l2.5 3.6h-4.9zM484.8 680.7l2.5 3.6h-4.9zM485.6 680.7l2.5 3.6h-4.9zM486.4 680.7l2.5 3.6h-4.9zM487.2 680.7l2.5 3.6h-4.9zM488.1 680.8l2.5 3.6h-4.9zM488.9 680.8l2.5 3.6h-4.9zM489.7 680.8l2.5 3.6h-4.9zM490.5 680.8l2.5 3.6h-4.9zM491.4 680.8l2.5 3.6h-4.9zM492.2 680.8l2.5 3.6h-4.9zM493 680.8l2.5 3.6h-4.9zM493.9 680.8l2.5 3.6h-4.9zM494.7 680.8l2.5 3.6h-4.9zM495.5 680.8l2.5 3.6h-4.9zM496.3 680.8l2.5 3.6h-4.9zM497.2 680.8l2.5 3.6h-4.9zM498 680.8l2.5 3.6h-4.9zM498.8 680.9l2.5 3.6h-4.9zM499.6 680.9l2.5 3.6h-4.9zM500.5 680.9l2.5 3.6h-4.9zM501.3 680.9l2.5 3.6h-4.9zM502.1 680.9l2.5 3.6h-4.9zM503 680.9l2.5 3.6h-4.9zM503.8 680.9l2.5 3.6h-4.9zM504.6 680.9l2.5 3.6h-4.9zM505.4 680.9l2.5 3.6h-4.9zM506.3 680.9l2.5 3.6h-4.9zM507.1 680.9l2.5 3.6h-4.9zM507.9 680.9l2.5 3.6h-4.9zM508.7 680.9l2.5 3.6h-4.9zM509.6 680.9l2.5 3.6h-4.9zM510.4 680.9l2.5 3.6h-4.9zM511.2 681l2.5 3.6h-4.9zM512.1 681l2.5 3.6h-4.9zM512.9 681l2.5 3.6h-4.9zM513.7 681l2.5 3.6h-4.9zM514.5 681l2.5 3.6h-4.9zM515.4 681l2.5 3.6h-4.9zM516.2 681l2.5 3.6h-4.9zM517 681l2.5 3.6h-4.9zM517.8 681l2.5 3.6h-4.9zM518.7 681l2.5 3.6h-4.9zM519.5 681l2.5 3.6h-4.9zM520.3 681l2.5 3.6h-4.9zM521.2 681l2.5 3.6h-4.9zM522 681l2.5 3.6h-4.9zM522.8 681l2.5 3.6h-4.9zM523.6 681l2.5 3.6h-4.9zM524.5 681l2.5 3.6h-4.9zM525.3 681l2.5 3.6h-4.9zM526.1 681l2.5 3.6h-4.9zM526.9 681l2.5 3.6h-4.9zM527.8 681l2.5 3.6h-4.9zM528.6 681l2.5 3.6h-4.9z" fill="#7e7e7e"/>
<path d="M51.3 676h0M52.1 648.7h0M52.9 632.5h0M53.8 606.7h0M54.6 589.3h0M55.4 582.5h0M56.2 581.6h0M57.1 580.6h0M57.9 578.7h0M58.7 576.2h0M59.6 574.2h0M60.4 576.1h0M61.2 573.8h0M62 568.8h0M62.9 565h0M63.7 566.5h0M64.5 569.8h0M65.3 566.5h0M66.2 565.3h0M67 568.8h0M67.8 568.5h0M68.7 565h0M69.5 567.4h0M70.3 564.5h0M71.1 563.7h0M72 559.9h0M72.8 557.5h0M73.6 553.5h0M74.4 555.5h0M75.3 552.4h0M76.1 547h0M76.9 552.1h0M77.8 558.9h0M78.6 549.6h0M79.4 551.3h0M80.2 540h0M81.1 536.6h0M81.9 533.7h0M82.7 538h0M83.5 533.5h0M84.4 540.2h0M85.2 538.8h0M86 542.7h0M86.9 542h0M87.7 536.1h0M88.5 537.2h0M89.3 533.4h0M90.2 538.5h0M91 533.8h0M91.8 531.7h0M92.6 528.5h0M93.5 522.9h0M94.3 529.1h0M95.1 533.5h0M96 535.4h0M96.8 537.4h0M97.6 541.4h0M98.4 540.8h0M99.3 535.7h0M100.1 531.8h0M100.9 522.1h0M101.7 522.4h0M102.6 522.5h0M103.4 517h0M104.2 505.6h0M105.1 486.1h0M105.9 477.6h0M106.7 456.3h0M107.5 449.1h0M108.4 440.1h0M109.2 417.2h0M110 400.8h0M110.8 392.8h0M111.7 392.2h0M112.5 392.2h0M113.3 392.2h0M114.2 392.2h0M115 392.2h0M115.8 392.2h0M116.6 392.2h0M117.5 392.2h0M118.3 392.2h0M119.1 392.2h0M119.9 392.2h0M120.8 392.2h0M121.6 392.2h0M122.4 392.2h0M123.3 392.2h0M124.1 392.2h0M124.9 392.2h0M125.7 392.2h0M126.6 392.2h0M127.4 392.2h0M128.2 394.9h0M129 398.5h0M129.9 402.3h0M130.7 406.1h0M131.5 410.1h0M132.4 415h0M133.2 419.9h0M134 425.7h0M134.8 432.1h0M135.7 438.4h0M136.5 444.5h0M137.3 450.6h0M138.1 456.8h0M139 463.3h0M139.8 470h0M140.6 477h0M141.5 483.9h0M142.3 490.4h0M143.1 496.4h0M143.9 502.4h0M144.8 508.6h0M145.6 515h0M146.4 521.2h0M147.2 526.9h0M148.1 532h0M148.9 536.4h0M149.7 540.5h0M150.6 544.3h0M151.4 548h0M152.2 551.6h0M153 555h0M153.9 558.2h0M154.7 561.3h0M155.5 564.2h0M156.3 566.8h0M157.2 569.3h0M158 571.6h0M158.8 573.7h0M159.7 575.6h0M160.5 577.4h0M161.3 579h0M162.1 580.4h0M163 581.6h0M163.8 582.6h0M164.6 583.4h0M165.4 584h0M166.3 584.4h0M167.1 584.7h0M167.9 584.9h0M168.8 584.9h0M169.6 584.8h0M170.4 584.6h0M171.2 584.4h0M172.1 584.1h0M172.9 583.7h0M173.7 583.3h0M174.5 582.8h0M175.4 582.3h0M176.2 581.7h0M177 581.1h0M177.8 580.5h0M178.7 579.9h0M179.5 579.2h0M180.3 578.5h0M181.2 577.7h0M182 576.9h0M182.8 576h0M183.6 575.3h0M184.5 574.6h0M185.3 574h0M186.1 573.5h0M186.9 573.1h0M187.8 572.7h0M188.6 572.4h0M189.4 572.2h0M190.3 572.1h0M191.1 572.2h0M191.9 572.4h0M192.7 572.9h0M193.6 573.8h0M194.4 574.9h0M195.2 576.2h0M196 577.5h0M196.9 578.9h0M197.7 580.3h0M198.5 581.6h0M199.4 582.8h0M200.2 583.7h0M201 584.6h0M201.8 585.3h0M202.7 586.1h0M203.5 586.7h0M204.3 587.2h0M205.1 587.5h0M206 587.9h0M206.8 588.2h0M207.6 588.5h0M208.5 588.8h0M209.3 589h0M210.1 589.2h0M210.9 589.3h0M211.8 589.4h0M212.6 589.5h0M213.4 589.5h0M214.2 589.6h0M215.1 589.7h0M215.9 589.7h0M216.7 589.7h0M217.6 589.6h0M218.4 589.5h0M219.2 589.4h0M220 589.2h0M220.9 589.1h0M221.7 589h0M222.5 588.8h0M223.3 588.7h0M224.2 588.5h0M225 588.4h0M225.8 588.2h0M226.7 588h0M227.5 587.7h0M228.3 587.5h0M229.1 587.3h0M230 587h0M230.8 586.8h0M231.6 586.5h0M232.4 586.3h0M233.3 586.1h0M234.1 585.8h0M234.9 585.6h0M235.8 585.4h0M236.6 585.1h0M237.4 584.9h0M238.2 584.7h0M239.1 584.5h0M239.9 584.2h0M240.7 584h0M241.5 583.8h0M242.4 583.5h0M243.2 583.3h0M244 583.1h0M244.9 582.8h0M245.7 582.5h0M246.5 582.3h0M247.3 582h0M248.2 581.7h0M249 581.4h0M249.8 581.2h0M250.6 580.9h0M251.5 580.6h0M252.3 580.3h0M253.1 579.9h0M254 579.5h0M254.8 579.1h0M255.6 578.7h0M256.4 578.3h0M257.3 577.9h0M258.1 577.5h0M258.9 577.1h0M259.7 576.7h0M260.6 576.3h0M261.4 575.9h0M262.2 575.5h0M263.1 575.1h0M263.9 574.7h0M264.7 574.3h0M265.5 574h0M266.4 573.8h0M267.2 573.6h0M268 573.4h0M268.8 573.2h0M269.7 573.1h0M270.5 572.9h0M271.3 572.8h0M272.2 572.7h0M273 572.6h0M273.8 572.6h0M274.6 572.5h0M275.5 572.5h0M276.3 572.4h0M277.1 572.3h0M277.9 572.2h0M278.8 571.9h0M279.6 571.7h0M280.4 571.4h0M281.3 571.2h0M282.1 570.9h0M282.9 570.4h0M283.7 569.8h0M284.6 569h0M285.4 568.1h0M286.2 567.1h0M287 566.1h0M287.9 565h0M288.7 563.7h0M289.5 562.3h0M290.4 561h0M291.2 559.5h0M292 558.1h0M292.8 556.5h0M293.7 554.9h0M294.5 553.3h0M295.3 551.7h0M296.1 549.9h0M297 547.9h0M297.8 545.8h0M298.6 543.6h0M299.5 541.4h0M300.3 539.1h0M301.1 536.9h0M301.9 534.6h0M302.8 532.3h0M303.6 530.1h0M304.4 527.8h0M305.2 525.5h0M306.1 523.2h0M306.9 520.9h0M307.7 518.6h0M308.6 516.4h0M309.4 514.1h0M310.2 511.8h0M311 509.5h0M311.9 507.3h0M312.7 505h0M313.5 502.7h0M314.3 500.5h0M315.2 498.2h0M316 495.9h0M316.8 493.6h0M317.7 491.4h0M318.5 489.1h0M319.3 486.8h0M320.1 484.5h0M321 482.3h0M321.8 480h0M322.6 477.7h0M323.4 475.4h0M324.3 473.1h0M325.1 470.9h0M325.9 468.8h0M326.8 466.6h0M327.6 464.7h0M328.4 462.5h0M329.2 460.2h0M330.1 458.3h0M330.9 456.4h0M331.7 453.9h0M332.5 451.5h0M333.4 449.7h0M334.2 447.4h0M335 444.7h0M335.9 442.5h0M336.7 440.7h0M337.5 437.5h0M338.3 435.4h0M339.2 434h0M340 432.4h0M340.8 430.9h0M341.6 430h0M342.5 427.4h0M343.3 424.3h0M344.1 422.2h0M345 419h0M345.8 417.9h0M346.6 415.7h0M347.4 414.6h0M348.3 411.7h0M349.1 411.4h0M349.9 410.9h0M350.7 408h0M351.6 407.4h0M352.4 406.8h0M353.2 404.9h0M354.1 404.7h0M354.9 403.9h0M355.7 403.4h0M356.5 402.2h0M357.4 402.7h0M358.2 403h0M359 404.1h0M359.8 403.9h0M360.7 405.5h0M361.5 403h0M362.3 405.1h0M363.2 404.9h0M364 407.3h0M364.8 404.8h0M365.6 405.1h0M366.5 405.8h0M367.3 404.7h0M368.1 406.8h0M368.9 407.1h0M369.8 408.7h0M370.6 409.6h0M371.4 411.9h0M372.3 412h0M373.1 411.9h0M373.9 413.3h0M374.7 416.9h0M375.6 417.7h0M376.4 423.9h0M377.2 426.6h0M378 428.9h0M378.9 431.9h0M379.7 438.3h0M380.5 441.5h0M381.4 446.3h0M382.2 449.1h0M383 453.8h0M383.8 458.5h0M384.7 463.5h0M385.5 468.7h0M386.3 474h0M387.1 479.3h0M388 484.3h0M388.8 489.1h0M389.6 493.9h0M390.5 498.8h0M391.3 504h0M392.1 509.1h0M392.9 514.1h0M393.8 518.9h0M394.6 523.8h0M395.4 528.7h0M396.2 533.7h0M397.1 538.7h0M397.9 543.6h0M398.7 548.6h0M399.6 553.6h0M400.4 558.6h0M401.2 563.6h0M402 568.4h0M402.9 573.1h0M403.7 577.8h0M404.5 582.5h0M405.3 587.1h0M406.2 591.6h0M407 595.9h0M407.8 600h0M408.6 604h0M409.5 607.9h0M410.3 611.7h0M411.1 615.3h0M412 618.8h0M412.8 622.2h0M413.6 625.4h0M414.4 628.5h0M415.3 631.4h0M416.1 634h0M416.9 636.6h0M417.7 639.2h0M418.6 641.6h0M419.4 643.9h0M420.2 646.2h0M421.1 648.4h0M421.9 650.5h0M422.7 652.5h0M423.5 654.3h0M424.4 655.8h0M425.2 657.3h0M426 658.7h0M426.8 660.2h0M427.7 661.6h0M428.5 662.9h0M429.3 664.1h0M430.2 665.2h0M431 666.3h0M431.8 667.3h0M432.6 668.3h0M433.5 669.3h0M434.3 670.3h0M435.1 671.1h0M435.9 671.8h0M436.8 672.4h0M437.6 673.1h0M438.4 673.7h0M439.3 674.3h0M440.1 675h0M440.9 675.6h0M441.7 676.1h0M442.6 676.6h0M443.4 676.9h0M444.2 677.3h0M445 677.6h0M445.9 677.9h0M446.7 678.2h0M447.5 678.5h0M448.4 678.8h0M449.2 679.1h0M450 679.4h0M450.8 679.6h0M451.7 679.9h0M452.5 680.2h0M453.3 680.4h0M454.1 680.6h0M455 680.8h0M455.8 680.9h0M456.6 681h0M457.5 681.1h0M458.3 681.2h0M459.1 681.4h0M459.9 681.5h0M460.8 681.6h0M461.6 681.7h0M462.4 681.8h0M463.2 681.9h0M464.1 682h0M464.9 682.1h0M465.7 682.2h0M466.6 682.3h0M467.4 682.3h0M468.2 682.4h0M469 682.4h0M469.9 682.5h0M470.7 682.5h0M471.5 682.6h0M472.3 682.6h0M473.2 682.7h0M474 682.8h0M474.8 682.8h0M475.7 682.9h0M476.5 682.9h0M477.3 683h0M478.1 683h0M479 683.1h0M479.8 683.2h0M480.6 683.2h0M481.4 683.3h0M482.3 683.3h0M483.1 683.4h0M483.9 683.4h0M484.8 683.5h0M485.6 683.5h0M486.4 683.6h0M487.2 683.6h0M488.1 683.7h0M488.9 683.7h0M489.7 683.7h0M490.5 683.7h0M491.4 683.8h0M492.2 683.8h0M493 683.8h0M493.9 683.8h0M494.7 683.9h0M495.5 683.9h0M496.3 683.9h0M497.2 683.9h0M498 684h0M498.8 684h0M499.6 684h0M500.5 684h0M501.3 684.1h0M502.1 684.1h0M503 684.1h0M503.8 684.1h0M504.6 684.2h0M505.4 684.2h0M506.3 684.2h0M507.1 684.3h0M507.9 684.3h0M508.7 684.3h0M509.6 684.4h0M510.4 684.4h0M511.2 684.4h0M512.1 684.5h0M512.9 684.5h0M513.7 684.6h0M514.5 684.6h0M515.4 684.7h0M516.2 684.7h0M517 684.8h0M517.8 684.8h0M518.7 684.9h0M519.5 684.9h0M520.3 685h0M521.2 685.2h0M522 685.3h0M522.8 685.5h0M523.6 685.6h0M524.5 685.8h0M525.3 685.9h0M526.1 686.1h0M526.9 686.2h0M527.8 686.3h0M528.6 686.4h0" stroke="#000" stroke-width="3.75" stroke-linecap="round" fill="none"/>
<rect x="48.8" y="352.6" width="479.8" height="339.5" fill="none" stroke="#404040" stroke-width="1.2"/>
<line x1="43.4" y1="692.1" x2="48.8" y2="692.1" stroke="#404040" stroke-width="1.1"/>
<text x="37.2" y="696.5" text-anchor="end" class="t">0</text>
<line x1="43.4" y1="592.2" x2="48.8" y2="592.2" stroke="#404040" stroke-width="1.1"/>
<text x="37.2" y="596.6" text-anchor="end" class="t">1</text>
<line x1="43.4" y1="492.4" x2="48.8" y2="492.4" stroke="#404040" stroke-width="1.1"/>
<text x="37.2" y="496.8" text-anchor="end" class="t">2</text>
<line x1="43.4" y1="392.5" x2="48.8" y2="392.5" stroke="#404040" stroke-width="1.1"/>
<text x="37.2" y="396.9" text-anchor="end" class="t">3</text>
<text transform="translate(14.2 522.4) rotate(-90)" text-anchor="middle" font-size="15.6">Absorbance</text>
<rect x="204.4" y="361.7" width="6.2" height="6.2" fill="#bfbfbf"/>
<path d="M207.5 377.3l4 6.8h-8z" fill="#7e7e7e"/>
<circle cx="207.5" cy="398.4" r="3.5" fill="#000"/>
<text x="243.1" y="369.6" font-size="13.4">Biotic</text>
<text x="243.1" y="385.9" font-size="13.4"><tspan font-style="italic">C. sake</tspan><tspan dx="0.8"> 41E</tspan> 20 h of cultivation</text>
<text x="243.1" y="402.4" font-size="13.4">Abiotic</text>
<path d="M52.6 1039h0M53.4 1033.9h0M54.2 1029.5h0M55 1027.1h0M55.9 1025.5h0M56.7 1024.4h0M57.5 1024.1h0M58.3 1023.2h0M59.2 1023.1h0M60 1021.5h0M60.8 1021.2h0M61.6 1020.6h0M62.5 1021.7h0M63.3 1021.6h0M64.1 1022.4h0M65 1022.3h0M65.8 1022.5h0M66.6 1023.7h0M67.4 1023.2h0M68.3 1023h0M69.1 1022.8h0M69.9 1024h0M70.7 1024.1h0M71.6 1023.3h0M72.4 1023.9h0M73.2 1024.3h0M74 1023.5h0M74.9 1024h0M75.7 1024.8h0M76.5 1023.2h0M77.4 1024.1h0M78.2 1024.7h0M79 1023.4h0M79.8 1023.3h0M80.7 1023.6h0M81.5 1023.6h0M82.3 1023.5h0M83.1 1022.5h0M84 1022.7h0M84.8 1023.1h0M85.6 1022.8h0M86.4 1023.4h0M87.3 1022.6h0M88.1 1022.6h0M88.9 1023.7h0M89.8 1022.8h0M90.6 1022.3h0M91.4 1022.8h0M92.2 1022.7h0M93.1 1022.9h0M93.9 1022.4h0M94.7 1021.6h0M95.5 1021.1h0M96.4 1020.6h0M97.2 1021.1h0M98 1020.9h0M98.8 1019.3h0M99.7 1019.1h0M100.5 1018.3h0M101.3 1016.7h0M102.2 1014.6h0M103 1001.1h0M103.8 983h0M104.6 962.9h0M105.5 943.7h0M106.3 928.2h0M107.1 914.5h0M107.9 904.4h0M108.8 897h0M109.6 891.8h0M110.4 881.4h0M111.3 868.8h0M112.1 858.1h0M112.9 856.6h0M113.7 856h0M114.6 858.6h0M115.4 861.9h0M116.2 868.2h0M117 874.4h0M117.9 877.8h0M118.7 882.1h0M119.5 886.8h0M120.3 893.3h0M121.2 897.1h0M122 901.2h0M122.8 905.1h0M123.7 908.7h0M124.5 912.1h0M125.3 915.4h0M126.1 918.6h0M127 921.7h0M127.8 924.6h0M128.6 927.4h0M129.4 930h0M130.3 932.4h0M131.1 934.9h0M131.9 937.2h0M132.7 939.5h0M133.6 941.8h0M134.4 944.1h0M135.2 946.3h0M136.1 948.4h0M136.9 950.5h0M137.7 952.4h0M138.5 954.3h0M139.4 956.1h0M140.2 957.8h0M141 959.6h0M141.8 961.2h0M142.7 962.9h0M143.5 964.5h0M144.3 966.1h0M145.1 967.6h0M146 969.1h0M146.8 970.5h0M147.6 971.9h0M148.5 973.3h0M149.3 974.6h0M150.1 975.9h0M150.9 977.1h0M151.8 978.3h0M152.6 979.5h0M153.4 980.7h0M154.2 981.9h0M155.1 982.9h0M155.9 984h0M156.7 985h0M157.5 986.1h0M158.4 987.2h0M159.2 988.4h0M160 989.7h0M160.9 990.8h0M161.7 991.9h0M162.5 992.9h0M163.3 993.8h0M164.2 994.8h0M165 995.7h0M165.8 996.6h0M166.6 997.4h0M167.5 998.2h0M168.3 999h0M169.1 999.8h0M169.9 1000.6h0M170.8 1001.4h0M171.6 1002.1h0M172.4 1002.9h0M173.3 1003.6h0M174.1 1004.3h0M174.9 1005.1h0M175.7 1005.8h0M176.6 1006.5h0M177.4 1007.2h0M178.2 1007.8h0M179 1008.5h0M179.9 1009.1h0M180.7 1009.7h0M181.5 1010.3h0M182.3 1011h0M183.2 1011.6h0M184 1012.2h0M184.8 1012.8h0M185.7 1013.3h0M186.5 1013.8h0M187.3 1014.3h0M188.1 1014.8h0M189 1015.3h0M189.8 1015.8h0M190.6 1016.3h0M191.4 1016.8h0M192.3 1017.2h0M193.1 1017.7h0M193.9 1018.1h0M194.8 1018.4h0M195.6 1018.8h0M196.4 1019.1h0M197.2 1019.5h0M198.1 1019.8h0M198.9 1020.1h0M199.7 1020.5h0M200.5 1020.8h0M201.4 1021.1h0M202.2 1021.4h0M203 1021.7h0M203.8 1021.9h0M204.7 1022.2h0M205.5 1022.4h0M206.3 1022.7h0M207.2 1022.9h0M208 1023.1h0M208.8 1023.4h0M209.6 1023.6h0M210.5 1023.8h0M211.3 1024h0M212.1 1024.1h0M212.9 1024.3h0M213.8 1024.5h0M214.6 1024.6h0M215.4 1024.8h0M216.2 1024.9h0M217.1 1025.1h0M217.9 1025.3h0M218.7 1025.4h0M219.6 1025.6h0M220.4 1025.7h0M221.2 1025.9h0M222 1026h0M222.9 1026.2h0M223.7 1026.3h0M224.5 1026.5h0M225.3 1026.6h0M226.2 1026.7h0M227 1026.9h0M227.8 1027h0M228.6 1027.2h0M229.5 1027.3h0M230.3 1027.4h0M231.1 1027.5h0M232 1027.7h0M232.8 1027.8h0M233.6 1027.9h0M234.4 1028.1h0M235.3 1028.2h0M236.1 1028.3h0M236.9 1028.5h0M237.7 1028.6h0M238.6 1028.8h0M239.4 1028.9h0M240.2 1029h0M241 1029.2h0M241.9 1029.3h0M242.7 1029.4h0M243.5 1029.6h0M244.4 1029.7h0M245.2 1029.9h0M246 1030h0M246.8 1030.1h0M247.7 1030.3h0M248.5 1030.4h0M249.3 1030.5h0M250.1 1030.7h0M251 1030.8h0M251.8 1031h0M252.6 1031.2h0M253.4 1031.3h0M254.3 1031.5h0M255.1 1031.6h0M255.9 1031.8h0M256.8 1031.9h0M257.6 1032.1h0M258.4 1032.2h0M259.2 1032.4h0M260.1 1032.5h0M260.9 1032.6h0M261.7 1032.7h0M262.5 1032.8h0M263.4 1033h0M264.2 1033.1h0M265 1033.2h0M265.8 1033.3h0M266.7 1033.4h0M267.5 1033.5h0M268.3 1033.7h0M269.2 1033.8h0M270 1033.9h0M270.8 1034h0M271.6 1034.1h0M272.5 1034.2h0M273.3 1034.3h0M274.1 1034.4h0M274.9 1034.5h0M275.8 1034.6h0M276.6 1034.7h0M277.4 1034.8h0M278.2 1034.9h0M279.1 1034.9h0M279.9 1035h0M280.7 1035.1h0M281.6 1035.2h0M282.4 1035.3h0M283.2 1035.4h0M284 1035.4h0M284.9 1035.5h0M285.7 1035.6h0M286.5 1035.7h0M287.3 1035.8h0M288.2 1035.8h0M289 1035.9h0M289.8 1036h0M290.6 1036h0M291.5 1036.1h0M292.3 1036.1h0M293.1 1036.2h0M294 1036.2h0M294.8 1036.3h0M295.6 1036.3h0M296.4 1036.4h0M297.3 1036.5h0M298.1 1036.5h0M298.9 1036.6h0M299.7 1036.6h0M300.6 1036.7h0M301.4 1036.7h0M302.2 1036.8h0M303.1 1036.8h0M303.9 1036.9h0M304.7 1036.9h0M305.5 1037h0M306.4 1037.1h0M307.2 1037.1h0M308 1037.2h0M308.8 1037.2h0M309.7 1037.3h0M310.5 1037.3h0M311.3 1037.4h0M312.1 1037.4h0M313 1037.5h0M313.8 1037.5h0M314.6 1037.6h0M315.5 1037.6h0M316.3 1037.7h0M317.1 1037.7h0M317.9 1037.8h0M318.8 1037.8h0M319.6 1037.9h0M320.4 1037.9h0M321.2 1038h0M322.1 1038h0M322.9 1038.1h0M323.7 1038.1h0M324.5 1038.1h0M325.4 1038.2h0M326.2 1038.2h0M327 1038.3h0M327.9 1038.3h0M328.7 1038.3h0M329.5 1038.4h0M330.3 1038.4h0M331.2 1038.5h0M332 1038.5h0M332.8 1038.5h0M333.6 1038.6h0M334.5 1038.6h0M335.3 1038.6h0M336.1 1038.7h0M336.9 1038.7h0M337.8 1038.8h0M338.6 1038.8h0M339.4 1038.8h0M340.3 1038.9h0M341.1 1038.9h0M341.9 1039h0M342.7 1039h0M343.6 1039h0M344.4 1039.1h0M345.2 1039.1h0M346 1039.2h0M346.9 1039.2h0M347.7 1039.2h0M348.5 1039.3h0M349.3 1039.3h0M350.2 1039.4h0M351 1039.4h0M351.8 1039.4h0M352.7 1039.5h0M353.5 1039.5h0M354.3 1039.6h0M355.1 1039.6h0M356 1039.6h0M356.8 1039.7h0M357.6 1039.7h0M358.4 1039.7h0M359.3 1039.8h0M360.1 1039.8h0M360.9 1039.9h0M361.7 1039.9h0M362.6 1039.9h0M363.4 1040h0M364.2 1040h0M365.1 1040h0M365.9 1040h0M366.7 1040h0M367.5 1040.1h0M368.4 1040.1h0M369.2 1040.1h0M370 1040.1h0M370.8 1040.1h0M371.7 1040.1h0M372.5 1040.1h0M373.3 1040.1h0M374.1 1040.1h0M375 1040.2h0M375.8 1040.2h0M376.6 1040.2h0M377.5 1040.2h0M378.3 1040.2h0M379.1 1040.2h0M379.9 1040.2h0M380.8 1040.2h0M381.6 1040.2h0M382.4 1040.3h0M383.2 1040.3h0M384.1 1040.3h0M384.9 1040.3h0M385.7 1040.3h0M386.6 1040.3h0M387.4 1040.3h0M388.2 1040.3h0M389 1040.4h0M389.9 1040.4h0M390.7 1040.4h0M391.5 1040.4h0M392.3 1040.4h0M393.2 1040.4h0M394 1040.4h0M394.8 1040.4h0M395.6 1040.4h0M396.5 1040.5h0M397.3 1040.5h0M398.1 1040.5h0M399 1040.5h0M399.8 1040.5h0M400.6 1040.5h0M401.4 1040.5h0M402.3 1040.5h0M403.1 1040.6h0M403.9 1040.6h0M404.7 1040.6h0M405.6 1040.6h0M406.4 1040.6h0M407.2 1040.6h0M408 1040.6h0M408.9 1040.6h0M409.7 1040.6h0M410.5 1040.7h0M411.4 1040.7h0M412.2 1040.7h0M413 1040.7h0M413.8 1040.7h0M414.7 1040.7h0M415.5 1040.7h0M416.3 1040.7h0M417.1 1040.7h0M418 1040.8h0M418.8 1040.8h0M419.6 1040.8h0M420.4 1040.8h0M421.3 1040.8h0M422.1 1040.8h0M422.9 1040.8h0M423.8 1040.8h0M424.6 1040.9h0M425.4 1040.9h0M426.2 1040.9h0M427.1 1040.9h0M427.9 1040.9h0M428.7 1040.9h0M429.5 1040.9h0M430.4 1040.9h0M431.2 1040.9h0M432 1041h0M432.8 1041h0M433.7 1041h0M434.5 1041h0M435.3 1041h0M436.2 1041h0M437 1041h0M437.8 1041h0M438.6 1041h0M439.5 1041.1h0M440.3 1041.1h0M441.1 1041.1h0M441.9 1041.1h0M442.8 1041.1h0M443.6 1041.1h0M444.4 1041.1h0M445.2 1041.1h0M446.1 1041.2h0M446.9 1041.2h0M447.7 1041.2h0M448.6 1041.2h0M449.4 1041.2h0M450.2 1041.2h0M451 1041.2h0M451.9 1041.2h0M452.7 1041.2h0M453.5 1041.2h0M454.3 1041.2h0M455.2 1041.2h0M456 1041.2h0M456.8 1041.3h0M457.6 1041.3h0M458.5 1041.3h0M459.3 1041.3h0M460.1 1041.3h0M461 1041.3h0M461.8 1041.3h0M462.6 1041.3h0M463.4 1041.3h0M464.3 1041.3h0M465.1 1041.3h0M465.9 1041.3h0M466.7 1041.3h0M467.6 1041.3h0M468.4 1041.3h0M469.2 1041.3h0M470 1041.4h0M470.9 1041.4h0M471.7 1041.4h0M472.5 1041.4h0M473.4 1041.4h0M474.2 1041.4h0M475 1041.4h0M475.8 1041.4h0M476.7 1041.4h0M477.5 1041.4h0M478.3 1041.4h0M479.1 1041.4h0M480 1041.4h0M480.8 1041.4h0M481.6 1041.4h0M482.4 1041.4h0M483.3 1041.5h0M484.1 1041.5h0M484.9 1041.5h0M485.8 1041.5h0M486.6 1041.5h0M487.4 1041.5h0M488.2 1041.5h0M489.1 1041.5h0M489.9 1041.5h0M490.7 1041.5h0M491.5 1041.5h0M492.4 1041.5h0M493.2 1041.5h0M494 1041.5h0M494.9 1041.5h0M495.7 1041.5h0M496.5 1041.5h0M497.3 1041.6h0M498.2 1041.6h0M499 1041.6h0M499.8 1041.6h0M500.6 1041.6h0M501.5 1041.6h0M502.3 1041.6h0M503.1 1041.6h0M503.9 1041.6h0M504.8 1041.6h0M505.6 1041.6h0M506.4 1041.6h0M507.3 1041.6h0M508.1 1041.6h0M508.9 1041.6h0M509.7 1041.6h0M510.6 1041.7h0M511.4 1041.7h0M512.2 1041.7h0M513 1041.7h0M513.9 1041.7h0M514.7 1041.7h0M515.5 1041.7h0M516.3 1041.7h0M517.2 1041.7h0M518 1041.7h0M518.8 1041.7h0M519.7 1041.7h0M520.5 1041.7h0M521.3 1041.7h0M522.1 1041.7h0M523 1041.7h0M523.8 1041.8h0M524.6 1041.8h0M525.4 1041.8h0M526.3 1041.8h0M527.1 1041.8h0M527.9 1041.8h0M528.7 1041.8h0M529.6 1041.8h0M530.4 1041.8h0" stroke="#bfbfbf" stroke-width="3.4" stroke-linecap="square" fill="none"/>
<path d="M52.6 1035.6l2.5 3.6h-4.9zM53.4 1028.5l2.5 3.6h-4.9zM54.2 1022.4l2.5 3.6h-4.9zM55 1019.9l2.5 3.6h-4.9zM55.9 1017.9l2.5 3.6h-4.9zM56.7 1017.1l2.5 3.6h-4.9zM57.5 1016.5l2.5 3.6h-4.9zM58.3 1015.7l2.5 3.6h-4.9zM59.2 1015.3l2.5 3.6h-4.9zM60 1016.8l2.5 3.6h-4.9zM60.8 1015.3l2.5 3.6h-4.9zM61.6 1015.9l2.5 3.6h-4.9zM62.5 1015.6l2.5 3.6h-4.9zM63.3 1015.4l2.5 3.6h-4.9zM64.1 1014.7l2.5 3.6h-4.9zM65 1014.7l2.5 3.6h-4.9zM65.8 1015.5l2.5 3.6h-4.9zM66.6 1015.8l2.5 3.6h-4.9zM67.4 1014l2.5 3.6h-4.9zM68.3 1014.5l2.5 3.6h-4.9zM69.1 1014.9l2.5 3.6h-4.9zM69.9 1015.6l2.5 3.6h-4.9zM70.7 1015.2l2.5 3.6h-4.9zM71.6 1015.3l2.5 3.6h-4.9zM72.4 1015l2.5 3.6h-4.9zM73.2 1014.2l2.5 3.6h-4.9zM74 1014.6l2.5 3.6h-4.9zM74.9 1015.4l2.5 3.6h-4.9zM75.7 1014.7l2.5 3.6h-4.9zM76.5 1013.8l2.5 3.6h-4.9zM77.4 1015.3l2.5 3.6h-4.9zM78.2 1014.7l2.5 3.6h-4.9zM79 1014.8l2.5 3.6h-4.9zM79.8 1015.5l2.5 3.6h-4.9zM80.7 1013.9l2.5 3.6h-4.9zM81.5 1013.7l2.5 3.6h-4.9zM82.3 1012.5l2.5 3.6h-4.9zM83.1 1014l2.5 3.6h-4.9zM84 1014.2l2.5 3.6h-4.9zM84.8 1013.8l2.5 3.6h-4.9zM85.6 1013.7l2.5 3.6h-4.9zM86.4 1014.2l2.5 3.6h-4.9zM87.3 1013.8l2.5 3.6h-4.9zM88.1 1013.7l2.5 3.6h-4.9zM88.9 1013.3l2.5 3.6h-4.9zM89.8 1013.2l2.5 3.6h-4.9zM90.6 1013.6l2.5 3.6h-4.9zM91.4 1012.7l2.5 3.6h-4.9zM92.2 1012.2l2.5 3.6h-4.9zM93.1 1011.9l2.5 3.6h-4.9zM93.9 1011.9l2.5 3.6h-4.9zM94.7 1011.9l2.5 3.6h-4.9zM95.5 1011.7l2.5 3.6h-4.9zM96.4 1011l2.5 3.6h-4.9zM97.2 1010.3l2.5 3.6h-4.9zM98 1009.1l2.5 3.6h-4.9zM98.8 1010.1l2.5 3.6h-4.9zM99.7 1008.6l2.5 3.6h-4.9zM100.5 1008.5l2.5 3.6h-4.9zM101.3 1008.6l2.5 3.6h-4.9zM102.2 1006.5l2.5 3.6h-4.9zM103 991.5l2.5 3.6h-4.9zM103.8 974.7l2.5 3.6h-4.9zM104.6 954.3l2.5 3.6h-4.9zM105.5 937.8l2.5 3.6h-4.9zM106.3 923.2l2.5 3.6h-4.9zM107.1 908.8l2.5 3.6h-4.9zM107.9 892.9l2.5 3.6h-4.9zM108.8 879.7l2.5 3.6h-4.9zM109.6 870.6l2.5 3.6h-4.9zM110.4 859l2.5 3.6h-4.9zM111.3 841.8l2.5 3.6h-4.9zM112.1 828.4l2.5 3.6h-4.9zM112.9 818.5l2.5 3.6h-4.9zM113.7 810.5l2.5 3.6h-4.9zM114.6 808.2l2.5 3.6h-4.9zM115.4 813.5l2.5 3.6h-4.9zM116.2 820.6l2.5 3.6h-4.9zM117 826.6l2.5 3.6h-4.9zM117.9 832.1l2.5 3.6h-4.9zM118.7 837.8l2.5 3.6h-4.9zM119.5 844.3l2.5 3.6h-4.9zM120.3 849.5l2.5 3.6h-4.9zM121.2 856.7l2.5 3.6h-4.9zM122 861.3l2.5 3.6h-4.9zM122.8 866.3l2.5 3.6h-4.9zM123.7 870.3l2.5 3.6h-4.9zM124.5 873.6l2.5 3.6h-4.9zM125.3 875.4l2.5 3.6h-4.9zM126.1 877.9l2.5 3.6h-4.9zM127 880.3l2.5 3.6h-4.9zM127.8 881.9l2.5 3.6h-4.9zM128.6 883.5l2.5 3.6h-4.9zM129.4 885l2.5 3.6h-4.9zM130.3 886.1l2.5 3.6h-4.9zM131.1 887.1l2.5 3.6h-4.9zM131.9 888.1l2.5 3.6h-4.9zM132.7 889l2.5 3.6h-4.9zM133.6 889.9l2.5 3.6h-4.9zM134.4 890.8l2.5 3.6h-4.9zM135.2 891.7l2.5 3.6h-4.9zM136.1 892.7l2.5 3.6h-4.9zM136.9 893.7l2.5 3.6h-4.9zM137.7 894.9l2.5 3.6h-4.9zM138.5 896.1l2.5 3.6h-4.9zM139.4 897.4l2.5 3.6h-4.9zM140.2 898.8l2.5 3.6h-4.9zM141 900.2l2.5 3.6h-4.9zM141.8 901.8l2.5 3.6h-4.9zM142.7 903.5l2.5 3.6h-4.9zM143.5 905.2l2.5 3.6h-4.9zM144.3 907.1l2.5 3.6h-4.9zM145.1 909l2.5 3.6h-4.9zM146 911l2.5 3.6h-4.9zM146.8 913.1l2.5 3.6h-4.9zM147.6 915.3l2.5 3.6h-4.9zM148.5 917.5l2.5 3.6h-4.9zM149.3 919.8l2.5 3.6h-4.9zM150.1 922.2l2.5 3.6h-4.9zM150.9 924.6l2.5 3.6h-4.9zM151.8 927.1l2.5 3.6h-4.9zM152.6 929.5l2.5 3.6h-4.9zM153.4 932l2.5 3.6h-4.9zM154.2 934.6l2.5 3.6h-4.9zM155.1 937.1l2.5 3.6h-4.9zM155.9 939.7l2.5 3.6h-4.9zM156.7 942.3l2.5 3.6h-4.9zM157.5 945l2.5 3.6h-4.9zM158.4 947.5l2.5 3.6h-4.9zM159.2 950.1l2.5 3.6h-4.9zM160 952.5l2.5 3.6h-4.9zM160.9 955l2.5 3.6h-4.9zM161.7 957.4l2.5 3.6h-4.9zM162.5 959.9l2.5 3.6h-4.9zM163.3 962.4l2.5 3.6h-4.9zM164.2 964.8l2.5 3.6h-4.9zM165 967l2.5 3.6h-4.9zM165.8 969.1l2.5 3.6h-4.9zM166.6 971.1l2.5 3.6h-4.9zM167.5 973.2l2.5 3.6h-4.9zM168.3 975.6l2.5 3.6h-4.9zM169.1 978.2l2.5 3.6h-4.9zM169.9 980.7l2.5 3.6h-4.9zM170.8 983l2.5 3.6h-4.9zM171.6 985.1l2.5 3.6h-4.9zM172.4 987.1l2.5 3.6h-4.9zM173.3 989l2.5 3.6h-4.9zM174.1 990.6l2.5 3.6h-4.9zM174.9 992.1l2.5 3.6h-4.9zM175.7 993.5l2.5 3.6h-4.9zM176.6 994.8l2.5 3.6h-4.9zM177.4 996.2l2.5 3.6h-4.9zM178.2 997.4l2.5 3.6h-4.9zM179 998.5l2.5 3.6h-4.9zM179.9 999.5l2.5 3.6h-4.9zM180.7 1000.5l2.5 3.6h-4.9zM181.5 1001.4l2.5 3.6h-4.9zM182.3 1002.3l2.5 3.6h-4.9zM183.2 1003.3l2.5 3.6h-4.9zM184 1004.2l2.5 3.6h-4.9zM184.8 1005l2.5 3.6h-4.9zM185.7 1005.7l2.5 3.6h-4.9zM186.5 1006.3l2.5 3.6h-4.9zM187.3 1006.8l2.5 3.6h-4.9zM188.1 1007.4l2.5 3.6h-4.9zM189 1007.9l2.5 3.6h-4.9zM189.8 1008.5l2.5 3.6h-4.9zM190.6 1009l2.5 3.6h-4.9zM191.4 1009.6l2.5 3.6h-4.9zM192.3 1010.1l2.5 3.6h-4.9zM193.1 1010.6l2.5 3.6h-4.9zM193.9 1011l2.5 3.6h-4.9zM194.8 1011.4l2.5 3.6h-4.9zM195.6 1011.8l2.5 3.6h-4.9zM196.4 1012.1l2.5 3.6h-4.9zM197.2 1012.5l2.5 3.6h-4.9zM198.1 1012.8l2.5 3.6h-4.9zM198.9 1013.2l2.5 3.6h-4.9zM199.7 1013.6l2.5 3.6h-4.9zM200.5 1013.9l2.5 3.6h-4.9zM201.4 1014.2l2.5 3.6h-4.9zM202.2 1014.5l2.5 3.6h-4.9zM203 1014.7l2.5 3.6h-4.9zM203.8 1015l2.5 3.6h-4.9zM204.7 1015.2l2.5 3.6h-4.9zM205.5 1015.4l2.5 3.6h-4.9zM206.3 1015.6l2.5 3.6h-4.9zM207.2 1015.8l2.5 3.6h-4.9zM208 1016.1l2.5 3.6h-4.9zM208.8 1016.3l2.5 3.6h-4.9zM209.6 1016.5l2.5 3.6h-4.9zM210.5 1016.6l2.5 3.6h-4.9zM211.3 1016.8l2.5 3.6h-4.9zM212.1 1017l2.5 3.6h-4.9zM212.9 1017.1l2.5 3.6h-4.9zM213.8 1017.3l2.5 3.6h-4.9zM214.6 1017.4l2.5 3.6h-4.9zM215.4 1017.6l2.5 3.6h-4.9zM216.2 1017.7l2.5 3.6h-4.9zM217.1 1017.9l2.5 3.6h-4.9zM217.9 1018l2.5 3.6h-4.9zM218.7 1018.1l2.5 3.6h-4.9zM219.6 1018.3l2.5 3.6h-4.9zM220.4 1018.4l2.5 3.6h-4.9zM221.2 1018.5l2.5 3.6h-4.9zM222 1018.7l2.5 3.6h-4.9zM222.9 1018.8l2.5 3.6h-4.9zM223.7 1018.9l2.5 3.6h-4.9zM224.5 1019l2.5 3.6h-4.9zM225.3 1019.2l2.5 3.6h-4.9zM226.2 1019.3l2.5 3.6h-4.9zM227 1019.4l2.5 3.6h-4.9zM227.8 1019.5l2.5 3.6h-4.9zM228.6 1019.7l2.5 3.6h-4.9zM229.5 1019.8l2.5 3.6h-4.9zM230.3 1019.9l2.5 3.6h-4.9zM231.1 1020l2.5 3.6h-4.9zM232 1020.1l2.5 3.6h-4.9zM232.8 1020.3l2.5 3.6h-4.9zM233.6 1020.4l2.5 3.6h-4.9zM234.4 1020.5l2.5 3.6h-4.9zM235.3 1020.6l2.5 3.6h-4.9zM236.1 1020.7l2.5 3.6h-4.9zM236.9 1020.8l2.5 3.6h-4.9zM237.7 1020.9l2.5 3.6h-4.9zM238.6 1021l2.5 3.6h-4.9zM239.4 1021.1l2.5 3.6h-4.9zM240.2 1021.2l2.5 3.6h-4.9zM241 1021.3l2.5 3.6h-4.9zM241.9 1021.4l2.5 3.6h-4.9zM242.7 1021.5l2.5 3.6h-4.9zM243.5 1021.6l2.5 3.6h-4.9zM244.4 1021.7l2.5 3.6h-4.9zM245.2 1021.8l2.5 3.6h-4.9zM246 1021.9l2.5 3.6h-4.9zM246.8 1022l2.5 3.6h-4.9zM247.7 1022.1l2.5 3.6h-4.9zM248.5 1022.2l2.5 3.6h-4.9zM249.3 1022.3l2.5 3.6h-4.9zM250.1 1022.4l2.5 3.6h-4.9zM251 1022.5l2.5 3.6h-4.9zM251.8 1022.6l2.5 3.6h-4.9zM252.6 1022.7l2.5 3.6h-4.9zM253.4 1022.7l2.5 3.6h-4.9zM254.3 1022.8l2.5 3.6h-4.9zM255.1 1022.9l2.5 3.6h-4.9zM255.9 1023l2.5 3.6h-4.9zM256.8 1023.1l2.5 3.6h-4.9zM257.6 1023.2l2.5 3.6h-4.9zM258.4 1023.3l2.5 3.6h-4.9zM259.2 1023.4l2.5 3.6h-4.9zM260.1 1023.6l2.5 3.6h-4.9zM260.9 1023.7l2.5 3.6h-4.9zM261.7 1023.8l2.5 3.6h-4.9zM262.5 1024l2.5 3.6h-4.9zM263.4 1024.1l2.5 3.6h-4.9zM264.2 1024.2l2.5 3.6h-4.9zM265 1024.4l2.5 3.6h-4.9zM265.8 1024.5l2.5 3.6h-4.9zM266.7 1024.6l2.5 3.6h-4.9zM267.5 1024.8l2.5 3.6h-4.9zM268.3 1024.9l2.5 3.6h-4.9zM269.2 1025l2.5 3.6h-4.9zM270 1025.2l2.5 3.6h-4.9zM270.8 1025.3l2.5 3.6h-4.9zM271.6 1025.4l2.5 3.6h-4.9zM272.5 1025.6l2.5 3.6h-4.9zM273.3 1025.7l2.5 3.6h-4.9zM274.1 1025.8l2.5 3.6h-4.9zM274.9 1025.9l2.5 3.6h-4.9zM275.8 1025.9l2.5 3.6h-4.9zM276.6 1026l2.5 3.6h-4.9zM277.4 1026.1l2.5 3.6h-4.9zM278.2 1026.2l2.5 3.6h-4.9zM279.1 1026.3l2.5 3.6h-4.9zM279.9 1026.4l2.5 3.6h-4.9zM280.7 1026.4l2.5 3.6h-4.9zM281.6 1026.5l2.5 3.6h-4.9zM282.4 1026.6l2.5 3.6h-4.9zM283.2 1026.7l2.5 3.6h-4.9zM284 1026.8l2.5 3.6h-4.9zM284.9 1026.9l2.5 3.6h-4.9zM285.7 1026.9l2.5 3.6h-4.9zM286.5 1027l2.5 3.6h-4.9zM287.3 1027.1l2.5 3.6h-4.9zM288.2 1027.2l2.5 3.6h-4.9zM289 1027.2l2.5 3.6h-4.9zM289.8 1027.3l2.5 3.6h-4.9zM290.6 1027.4l2.5 3.6h-4.9zM291.5 1027.4l2.5 3.6h-4.9zM292.3 1027.5l2.5 3.6h-4.9zM293.1 1027.6l2.5 3.6h-4.9zM294 1027.6l2.5 3.6h-4.9zM294.8 1027.7l2.5 3.6h-4.9zM295.6 1027.8l2.5 3.6h-4.9zM296.4 1027.8l2.5 3.6h-4.9zM297.3 1027.9l2.5 3.6h-4.9zM298.1 1027.9l2.5 3.6h-4.9zM298.9 1028l2.5 3.6h-4.9zM299.7 1028.1l2.5 3.6h-4.9zM300.6 1028.1l2.5 3.6h-4.9zM301.4 1028.2l2.5 3.6h-4.9zM302.2 1028.3l2.5 3.6h-4.9zM303.1 1028.3l2.5 3.6h-4.9zM303.9 1028.4l2.5 3.6h-4.9zM304.7 1028.4l2.5 3.6h-4.9zM305.5 1028.5l2.5 3.6h-4.9zM306.4 1028.6l2.5 3.6h-4.9zM307.2 1028.6l2.5 3.6h-4.9zM308 1028.7l2.5 3.6h-4.9zM308.8 1028.7l2.5 3.6h-4.9zM309.7 1028.8l2.5 3.6h-4.9zM310.5 1028.9l2.5 3.6h-4.9zM311.3 1028.9l2.5 3.6h-4.9zM312.1 1029l2.5 3.6h-4.9zM313 1029.1l2.5 3.6h-4.9zM313.8 1029.1l2.5 3.6h-4.9zM314.6 1029.2l2.5 3.6h-4.9zM315.5 1029.2l2.5 3.6h-4.9zM316.3 1029.3l2.5 3.6h-4.9zM317.1 1029.4l2.5 3.6h-4.9zM317.9 1029.4l2.5 3.6h-4.9zM318.8 1029.5l2.5 3.6h-4.9zM319.6 1029.5l2.5 3.6h-4.9zM320.4 1029.6l2.5 3.6h-4.9zM321.2 1029.7l2.5 3.6h-4.9zM322.1 1029.7l2.5 3.6h-4.9zM322.9 1029.8l2.5 3.6h-4.9zM323.7 1029.9l2.5 3.6h-4.9zM324.5 1030l2.5 3.6h-4.9zM325.4 1030l2.5 3.6h-4.9zM326.2 1030.1l2.5 3.6h-4.9zM327 1030.2l2.5 3.6h-4.9zM327.9 1030.2l2.5 3.6h-4.9zM328.7 1030.3l2.5 3.6h-4.9zM329.5 1030.4l2.5 3.6h-4.9zM330.3 1030.4l2.5 3.6h-4.9zM331.2 1030.5l2.5 3.6h-4.9zM332 1030.6l2.5 3.6h-4.9zM332.8 1030.6l2.5 3.6h-4.9zM333.6 1030.7l2.5 3.6h-4.9zM334.5 1030.8l2.5 3.6h-4.9zM335.3 1030.8l2.5 3.6h-4.9zM336.1 1030.9l2.5 3.6h-4.9zM336.9 1031l2.5 3.6h-4.9zM337.8 1031l2.5 3.6h-4.9zM338.6 1031.1l2.5 3.6h-4.9zM339.4 1031.2l2.5 3.6h-4.9zM340.3 1031.2l2.5 3.6h-4.9zM341.1 1031.3l2.5 3.6h-4.9zM341.9 1031.4l2.5 3.6h-4.9zM342.7 1031.4l2.5 3.6h-4.9zM343.6 1031.5l2.5 3.6h-4.9zM344.4 1031.6l2.5 3.6h-4.9zM345.2 1031.6l2.5 3.6h-4.9zM346 1031.7l2.5 3.6h-4.9zM346.9 1031.8l2.5 3.6h-4.9zM347.7 1031.8l2.5 3.6h-4.9zM348.5 1031.9l2.5 3.6h-4.9zM349.3 1032l2.5 3.6h-4.9zM350.2 1032l2.5 3.6h-4.9zM351 1032.1l2.5 3.6h-4.9zM351.8 1032.1l2.5 3.6h-4.9zM352.7 1032.2l2.5 3.6h-4.9zM353.5 1032.2l2.5 3.6h-4.9zM354.3 1032.3l2.5 3.6h-4.9zM355.1 1032.4l2.5 3.6h-4.9zM356 1032.4l2.5 3.6h-4.9zM356.8 1032.5l2.5 3.6h-4.9zM357.6 1032.5l2.5 3.6h-4.9zM358.4 1032.6l2.5 3.6h-4.9zM359.3 1032.6l2.5 3.6h-4.9zM360.1 1032.7l2.5 3.6h-4.9zM360.9 1032.7l2.5 3.6h-4.9zM361.7 1032.8l2.5 3.6h-4.9zM362.6 1032.9l2.5 3.6h-4.9zM363.4 1032.9l2.5 3.6h-4.9zM364.2 1033l2.5 3.6h-4.9zM365.1 1033l2.5 3.6h-4.9zM365.9 1033.1l2.5 3.6h-4.9zM366.7 1033.1l2.5 3.6h-4.9zM367.5 1033.2l2.5 3.6h-4.9zM368.4 1033.2l2.5 3.6h-4.9zM369.2 1033.3l2.5 3.6h-4.9zM370 1033.4l2.5 3.6h-4.9zM370.8 1033.4l2.5 3.6h-4.9zM371.7 1033.5l2.5 3.6h-4.9zM372.5 1033.5l2.5 3.6h-4.9zM373.3 1033.6l2.5 3.6h-4.9zM374.1 1033.6l2.5 3.6h-4.9zM375 1033.7l2.5 3.6h-4.9zM375.8 1033.8l2.5 3.6h-4.9zM376.6 1033.8l2.5 3.6h-4.9zM377.5 1033.9l2.5 3.6h-4.9zM378.3 1033.9l2.5 3.6h-4.9zM379.1 1034l2.5 3.6h-4.9zM379.9 1034l2.5 3.6h-4.9zM380.8 1034l2.5 3.6h-4.9zM381.6 1034l2.5 3.6h-4.9zM382.4 1034.1l2.5 3.6h-4.9zM383.2 1034.1l2.5 3.6h-4.9zM384.1 1034.1l2.5 3.6h-4.9zM384.9 1034.2l2.5 3.6h-4.9zM385.7 1034.2l2.5 3.6h-4.9zM386.6 1034.2l2.5 3.6h-4.9zM387.4 1034.2l2.5 3.6h-4.9zM388.2 1034.3l2.5 3.6h-4.9zM389 1034.3l2.5 3.6h-4.9zM389.9 1034.3l2.5 3.6h-4.9zM390.7 1034.4l2.5 3.6h-4.9zM391.5 1034.4l2.5 3.6h-4.9zM392.3 1034.4l2.5 3.6h-4.9zM393.2 1034.5l2.5 3.6h-4.9zM394 1034.5l2.5 3.6h-4.9zM394.8 1034.5l2.5 3.6h-4.9zM395.6 1034.5l2.5 3.6h-4.9zM396.5 1034.6l2.5 3.6h-4.9zM397.3 1034.6l2.5 3.6h-4.9zM398.1 1034.6l2.5 3.6h-4.9zM399 1034.7l2.5 3.6h-4.9zM399.8 1034.7l2.5 3.6h-4.9zM400.6 1034.7l2.5 3.6h-4.9zM401.4 1034.7l2.5 3.6h-4.9zM402.3 1034.8l2.5 3.6h-4.9zM403.1 1034.8l2.5 3.6h-4.9zM403.9 1034.8l2.5 3.6h-4.9zM404.7 1034.9l2.5 3.6h-4.9zM405.6 1034.9l2.5 3.6h-4.9zM406.4 1034.9l2.5 3.6h-4.9zM407.2 1035l2.5 3.6h-4.9zM408 1035l2.5 3.6h-4.9zM408.9 1035l2.5 3.6h-4.9zM409.7 1035l2.5 3.6h-4.9zM410.5 1035.1l2.5 3.6h-4.9zM411.4 1035.1l2.5 3.6h-4.9zM412.2 1035.1l2.5 3.6h-4.9zM413 1035.2l2.5 3.6h-4.9zM413.8 1035.2l2.5 3.6h-4.9zM414.7 1035.2l2.5 3.6h-4.9zM415.5 1035.2l2.5 3.6h-4.9zM416.3 1035.3l2.5 3.6h-4.9zM417.1 1035.3l2.5 3.6h-4.9zM418 1035.3l2.5 3.6h-4.9zM418.8 1035.4l2.5 3.6h-4.9zM419.6 1035.4l2.5 3.6h-4.9zM420.4 1035.4l2.5 3.6h-4.9zM421.3 1035.4l2.5 3.6h-4.9zM422.1 1035.5l2.5 3.6h-4.9zM422.9 1035.5l2.5 3.6h-4.9zM423.8 1035.5l2.5 3.6h-4.9zM424.6 1035.6l2.5 3.6h-4.9zM425.4 1035.6l2.5 3.6h-4.9zM426.2 1035.6l2.5 3.6h-4.9zM427.1 1035.7l2.5 3.6h-4.9zM427.9 1035.7l2.5 3.6h-4.9zM428.7 1035.7l2.5 3.6h-4.9zM429.5 1035.7l2.5 3.6h-4.9zM430.4 1035.8l2.5 3.6h-4.9zM431.2 1035.8l2.5 3.6h-4.9zM432 1035.8l2.5 3.6h-4.9zM432.8 1035.9l2.5 3.6h-4.9zM433.7 1035.9l2.5 3.6h-4.9zM434.5 1035.9l2.5 3.6h-4.9zM435.3 1035.9l2.5 3.6h-4.9zM436.2 1036l2.5 3.6h-4.9zM437 1036l2.5 3.6h-4.9zM437.8 1036l2.5 3.6h-4.9zM438.6 1036.1l2.5 3.6h-4.9zM439.5 1036.1l2.5 3.6h-4.9zM440.3 1036.1l2.5 3.6h-4.9zM441.1 1036.1l2.5 3.6h-4.9zM441.9 1036.2l2.5 3.6h-4.9zM442.8 1036.2l2.5 3.6h-4.9zM443.6 1036.2l2.5 3.6h-4.9zM444.4 1036.3l2.5 3.6h-4.9zM445.2 1036.3l2.5 3.6h-4.9zM446.1 1036.3l2.5 3.6h-4.9zM446.9 1036.4l2.5 3.6h-4.9zM447.7 1036.4l2.5 3.6h-4.9zM448.6 1036.4l2.5 3.6h-4.9zM449.4 1036.4l2.5 3.6h-4.9zM450.2 1036.4l2.5 3.6h-4.9zM451 1036.5l2.5 3.6h-4.9zM451.9 1036.5l2.5 3.6h-4.9zM452.7 1036.5l2.5 3.6h-4.9zM453.5 1036.5l2.5 3.6h-4.9zM454.3 1036.5l2.5 3.6h-4.9zM455.2 1036.5l2.5 3.6h-4.9zM456 1036.5l2.5 3.6h-4.9zM456.8 1036.5l2.5 3.6h-4.9zM457.6 1036.5l2.5 3.6h-4.9zM458.5 1036.5l2.5 3.6h-4.9zM459.3 1036.5l2.5 3.6h-4.9zM460.1 1036.5l2.5 3.6h-4.9zM461 1036.5l2.5 3.6h-4.9zM461.8 1036.5l2.5 3.6h-4.9zM462.6 1036.5l2.5 3.6h-4.9zM463.4 1036.6l2.5 3.6h-4.9zM464.3 1036.6l2.5 3.6h-4.9zM465.1 1036.6l2.5 3.6h-4.9zM465.9 1036.6l2.5 3.6h-4.9zM466.7 1036.6l2.5 3.6h-4.9zM467.6 1036.6l2.5 3.6h-4.9zM468.4 1036.6l2.5 3.6h-4.9zM469.2 1036.6l2.5 3.6h-4.9zM470 1036.6l2.5 3.6h-4.9zM470.9 1036.6l2.5 3.6h-4.9zM471.7 1036.6l2.5 3.6h-4.9zM472.5 1036.6l2.5 3.6h-4.9zM473.4 1036.6l2.5 3.6h-4.9zM474.2 1036.6l2.5 3.6h-4.9zM475 1036.6l2.5 3.6h-4.9zM475.8 1036.6l2.5 3.6h-4.9zM476.7 1036.7l2.5 3.6h-4.9zM477.5 1036.7l2.5 3.6h-4.9zM478.3 1036.7l2.5 3.6h-4.9zM479.1 1036.7l2.5 3.6h-4.9zM480 1036.7l2.5 3.6h-4.9zM480.8 1036.7l2.5 3.6h-4.9zM481.6 1036.7l2.5 3.6h-4.9zM482.4 1036.7l2.5 3.6h-4.9zM483.3 1036.7l2.5 3.6h-4.9zM484.1 1036.7l2.5 3.6h-4.9zM484.9 1036.7l2.5 3.6h-4.9zM485.8 1036.7l2.5 3.6h-4.9zM486.6 1036.7l2.5 3.6h-4.9zM487.4 1036.7l2.5 3.6h-4.9zM488.2 1036.7l2.5 3.6h-4.9zM489.1 1036.8l2.5 3.6h-4.9zM489.9 1036.8l2.5 3.6h-4.9zM490.7 1036.8l2.5 3.6h-4.9zM491.5 1036.8l2.5 3.6h-4.9zM492.4 1036.8l2.5 3.6h-4.9zM493.2 1036.8l2.5 3.6h-4.9zM494 1036.8l2.5 3.6h-4.9zM494.9 1036.8l2.5 3.6h-4.9zM495.7 1036.8l2.5 3.6h-4.9zM496.5 1036.8l2.5 3.6h-4.9zM497.3 1036.8l2.5 3.6h-4.9zM498.2 1036.8l2.5 3.6h-4.9zM499 1036.8l2.5 3.6h-4.9zM499.8 1036.8l2.5 3.6h-4.9zM500.6 1036.9l2.5 3.6h-4.9zM501.5 1036.9l2.5 3.6h-4.9zM502.3 1036.9l2.5 3.6h-4.9zM503.1 1036.9l2.5 3.6h-4.9zM503.9 1036.9l2.5 3.6h-4.9zM504.8 1036.9l2.5 3.6h-4.9zM505.6 1037l2.5 3.6h-4.9zM506.4 1037l2.5 3.6h-4.9zM507.3 1037l2.5 3.6h-4.9zM508.1 1037l2.5 3.6h-4.9zM508.9 1037l2.5 3.6h-4.9zM509.7 1037.1l2.5 3.6h-4.9zM510.6 1037.1l2.5 3.6h-4.9zM511.4 1037.1l2.5 3.6h-4.9zM512.2 1037.1l2.5 3.6h-4.9zM513 1037.1l2.5 3.6h-4.9zM513.9 1037.2l2.5 3.6h-4.9zM514.7 1037.2l2.5 3.6h-4.9zM515.5 1037.2l2.5 3.6h-4.9zM516.3 1037.2l2.5 3.6h-4.9zM517.2 1037.2l2.5 3.6h-4.9zM518 1037.3l2.5 3.6h-4.9zM518.8 1037.3l2.5 3.6h-4.9zM519.7 1037.3l2.5 3.6h-4.9zM520.5 1037.3l2.5 3.6h-4.9zM521.3 1037.3l2.5 3.6h-4.9zM522.1 1037.3l2.5 3.6h-4.9zM523 1037.4l2.5 3.6h-4.9zM523.8 1037.4l2.5 3.6h-4.9zM524.6 1037.4l2.5 3.6h-4.9zM525.4 1037.4l2.5 3.6h-4.9zM526.3 1037.4l2.5 3.6h-4.9zM527.1 1037.5l2.5 3.6h-4.9zM527.9 1037.5l2.5 3.6h-4.9zM528.7 1037.5l2.5 3.6h-4.9zM529.6 1037.5l2.5 3.6h-4.9zM530.4 1037.5l2.5 3.6h-4.9z" fill="#7e7e7e"/>
<path d="M52.6 1026.6h0M53.4 999.1h0M54.2 981.4h0M55 962.2h0M55.9 955.8h0M56.7 952.5h0M57.5 942.4h0M58.3 940.6h0M59.2 928.8h0M60 926.9h0M60.8 933.5h0M61.6 935.5h0M62.5 937h0M63.3 936.3h0M64.1 927.9h0M65 923.5h0M65.8 925.4h0M66.6 928.7h0M67.4 922.5h0M68.3 925.4h0M69.1 928h0M69.9 925.2h0M70.7 917.2h0M71.6 922.6h0M72.4 918.9h0M73.2 918.3h0M74 913.8h0M74.9 915.3h0M75.7 915.2h0M76.5 910.9h0M77.4 907.7h0M78.2 908.1h0M79 916h0M79.8 911.7h0M80.7 919.2h0M81.5 923.6h0M82.3 917.3h0M83.1 916.3h0M84 912.5h0M84.8 914.4h0M85.6 919.7h0M86.4 930.5h0M87.3 925.5h0M88.1 922.9h0M88.9 919.9h0M89.8 922.5h0M90.6 917.5h0M91.4 916.2h0M92.2 910.8h0M93.1 915.4h0M93.9 908.4h0M94.7 906.8h0M95.5 910.9h0M96.4 909.9h0M97.2 908.7h0M98 909.4h0M98.8 906.7h0M99.7 904.3h0M100.5 904.8h0M101.3 897.5h0M102.2 908.1h0M103 900.5h0M103.8 898.7h0M104.6 885.7h0M105.5 866.9h0M106.3 840.4h0M107.1 822.3h0M107.9 810.5h0M108.8 798.7h0M109.6 787.8h0M110.4 780.6h0M111.3 768.5h0M112.1 747.6h0M112.9 738.5h0M113.7 738.5h0M114.6 738.5h0M115.4 738.5h0M116.2 738.5h0M117 738.5h0M117.9 738.5h0M118.7 738.5h0M119.5 738.5h0M120.3 738.5h0M121.2 738.5h0M122 738.5h0M122.8 738.5h0M123.7 738.5h0M124.5 738.5h0M125.3 738.5h0M126.1 738.5h0M127 738.5h0M127.8 740.2h0M128.6 742.9h0M129.4 746.7h0M130.3 750.5h0M131.1 754h0M131.9 758.1h0M132.7 761.6h0M133.6 764.9h0M134.4 770.1h0M135.2 775.3h0M136.1 779.6h0M136.9 784.8h0M137.7 789.7h0M138.5 795h0M139.4 800.9h0M140.2 807h0M141 813.4h0M141.8 820h0M142.7 826.5h0M143.5 832.9h0M144.3 839.2h0M145.1 845.3h0M146 851.3h0M146.8 857.4h0M147.6 863.6h0M148.5 869.5h0M149.3 874.8h0M150.1 878.8h0M150.9 882h0M151.8 884.9h0M152.6 887.9h0M153.4 891.1h0M154.2 894.4h0M155.1 897.7h0M155.9 901h0M156.7 904.4h0M157.5 907.7h0M158.4 910.8h0M159.2 913.8h0M160 916.5h0M160.9 919h0M161.7 921.1h0M162.5 923h0M163.3 924.6h0M164.2 925.8h0M165 926.9h0M165.8 927.7h0M166.6 928.3h0M167.5 928.8h0M168.3 929.1h0M169.1 929.3h0M169.9 929.4h0M170.8 929.4h0M171.6 929.2h0M172.4 929h0M173.3 928.7h0M174.1 928.3h0M174.9 927.9h0M175.7 927.4h0M176.6 926.8h0M177.4 926.2h0M178.2 925.6h0M179 924.9h0M179.9 924.3h0M180.7 923.6h0M181.5 922.8h0M182.3 922.1h0M183.2 921.3h0M184 920.5h0M184.8 919.8h0M185.7 919.2h0M186.5 918.6h0M187.3 918h0M188.1 917.5h0M189 917h0M189.8 916.7h0M190.6 916.4h0M191.4 916.2h0M192.3 916.1h0M193.1 916.2h0M193.9 916.8h0M194.8 917.6h0M195.6 918.6h0M196.4 919.7h0M197.2 921h0M198.1 922.6h0M198.9 924.1h0M199.7 925.7h0M200.5 927.1h0M201.4 928.5h0M202.2 929.7h0M203 930.7h0M203.8 931.6h0M204.7 932.3h0M205.5 933h0M206.3 933.6h0M207.2 934.2h0M208 934.6h0M208.8 934.9h0M209.6 935.2h0M210.5 935.5h0M211.3 935.8h0M212.1 936h0M212.9 936.3h0M213.8 936.4h0M214.6 936.5h0M215.4 936.5h0M216.2 936.6h0M217.1 936.6h0M217.9 936.7h0M218.7 936.7h0M219.6 936.6h0M220.4 936.5h0M221.2 936.4h0M222 936.3h0M222.9 936.2h0M223.7 936h0M224.5 935.9h0M225.3 935.8h0M226.2 935.6h0M227 935.5h0M227.8 935.3h0M228.6 935.1h0M229.5 934.9h0M230.3 934.7h0M231.1 934.5h0M232 934.3h0M232.8 934.1h0M233.6 933.9h0M234.4 933.7h0M235.3 933.5h0M236.1 933.3h0M236.9 933h0M237.7 932.8h0M238.6 932.5h0M239.4 932.3h0M240.2 932h0M241 931.8h0M241.9 931.5h0M242.7 931.3h0M243.5 931h0M244.4 930.7h0M245.2 930.5h0M246 930.2h0M246.8 929.9h0M247.7 929.7h0M248.5 929.4h0M249.3 929.1h0M250.1 928.9h0M251 928.6h0M251.8 928.3h0M252.6 928h0M253.4 927.6h0M254.3 927.2h0M255.1 926.8h0M255.9 926.3h0M256.8 925.9h0M257.6 925.4h0M258.4 924.9h0M259.2 924.4h0M260.1 924h0M260.9 923.5h0M261.7 923h0M262.5 922.5h0M263.4 922h0M264.2 921.5h0M265 921.1h0M265.8 920.7h0M266.7 920.3h0M267.5 920h0M268.3 919.7h0M269.2 919.3h0M270 919h0M270.8 918.7h0M271.6 918.5h0M272.5 918.3h0M273.3 918.1h0M274.1 918h0M274.9 917.8h0M275.8 917.6h0M276.6 917.5h0M277.4 917.4h0M278.2 917.4h0M279.1 917.3h0M279.9 917.2h0M280.7 917.1h0M281.6 916.9h0M282.4 916.6h0M283.2 916.2h0M284 915.8h0M284.9 915.4h0M285.7 914.9h0M286.5 914.3h0M287.3 913.6h0M288.2 912.9h0M289 912.2h0M289.8 911.5h0M290.6 910.7h0M291.5 909.7h0M292.3 908.5h0M293.1 907.1h0M294 905.6h0M294.8 904h0M295.6 902.4h0M296.4 900.7h0M297.3 898.9h0M298.1 896.9h0M298.9 895h0M299.7 893h0M300.6 891h0M301.4 889h0M302.2 886.8h0M303.1 884.7h0M303.9 882.6h0M304.7 880.5h0M305.5 878.5h0M306.4 876.4h0M307.2 874.4h0M308 872.3h0M308.8 870.3h0M309.7 868.3h0M310.5 866.2h0M311.3 864.2h0M312.1 862.2h0M313 860.1h0M313.8 858.1h0M314.6 856h0M315.5 853.9h0M316.3 851.8h0M317.1 849.5h0M317.9 847.2h0M318.8 844.9h0M319.6 842.5h0M320.4 840.1h0M321.2 837.8h0M322.1 835.4h0M322.9 833.1h0M323.7 830.9h0M324.5 828.6h0M325.4 826.4h0M326.2 824.2h0M327 822h0M327.9 819.8h0M328.7 817.6h0M329.5 815.4h0M330.3 812.9h0M331.2 810.1h0M332 807.3h0M332.8 804.8h0M333.6 802.3h0M334.5 798.7h0M335.3 798.7h0M336.1 795h0M336.9 793.7h0M337.8 790.8h0M338.6 789.5h0M339.4 788h0M340.3 784h0M341.1 782.1h0M341.9 780.8h0M342.7 779.1h0M343.6 776.4h0M344.4 774h0M345.2 770.6h0M346 769.8h0M346.9 766.4h0M347.7 765h0M348.5 763.9h0M349.3 761h0M350.2 759.6h0M351 757h0M351.8 758.5h0M352.7 757h0M353.5 754.8h0M354.3 757.1h0M355.1 754.3h0M356 753.5h0M356.8 752.9h0M357.6 752.9h0M358.4 750.2h0M359.3 751.8h0M360.1 749.9h0M360.9 749h0M361.7 750h0M362.6 749.6h0M363.4 750.5h0M364.2 752.4h0M365.1 749.4h0M365.9 751.7h0M366.7 752h0M367.5 752.1h0M368.4 752.3h0M369.2 753.9h0M370 753.3h0M370.8 751.9h0M371.7 754.5h0M372.5 757.1h0M373.3 760h0M374.1 761.6h0M375 761h0M375.8 766h0M376.6 767.9h0M377.5 769.7h0M378.3 772.2h0M379.1 775.8h0M379.9 778.4h0M380.8 780.5h0M381.6 784h0M382.4 788.7h0M383.2 794h0M384.1 798.1h0M384.9 802.7h0M385.7 807h0M386.6 812h0M387.4 816.8h0M388.2 821.2h0M389 825.8h0M389.9 830.6h0M390.7 835.9h0M391.5 841.2h0M392.3 846.3h0M393.2 851h0M394 855.6h0M394.8 860.1h0M395.6 864.7h0M396.5 869.5h0M397.3 874.5h0M398.1 879.7h0M399 885h0M399.8 890.3h0M400.6 895.4h0M401.4 900.4h0M402.3 905.2h0M403.1 909.9h0M403.9 914.6h0M404.7 919.3h0M405.6 924.1h0M406.4 928.8h0M407.2 933.4h0M408 937.8h0M408.9 942.1h0M409.7 946.2h0M410.5 950.2h0M411.4 954h0M412.2 957.7h0M413 961.3h0M413.8 964.8h0M414.7 968.1h0M415.5 971.3h0M416.3 974.4h0M417.1 977.4h0M418 980.4h0M418.8 983.1h0M419.6 985.6h0M420.4 987.9h0M421.3 990.1h0M422.1 992.3h0M422.9 994.4h0M423.8 996.4h0M424.6 998.3h0M425.4 1000.3h0M426.2 1002.2h0M427.1 1003.9h0M427.9 1005.6h0M428.7 1007h0M429.5 1008.5h0M430.4 1009.8h0M431.2 1011.2h0M432 1012.5h0M432.8 1013.7h0M433.7 1014.8h0M434.5 1015.7h0M435.3 1016.7h0M436.2 1017.6h0M437 1018.6h0M437.8 1019.5h0M438.6 1020.4h0M439.5 1021.2h0M440.3 1021.9h0M441.1 1022.6h0M441.9 1023.3h0M442.8 1023.9h0M443.6 1024.4h0M444.4 1024.8h0M445.2 1025.1h0M446.1 1025.4h0M446.9 1025.6h0M447.7 1025.9h0M448.6 1026.2h0M449.4 1026.4h0M450.2 1026.7h0M451 1026.9h0M451.9 1027.2h0M452.7 1027.5h0M453.5 1027.7h0M454.3 1027.9h0M455.2 1028.1h0M456 1028.3h0M456.8 1028.4h0M457.6 1028.5h0M458.5 1028.6h0M459.3 1028.8h0M460.1 1028.9h0M461 1029h0M461.8 1029.1h0M462.6 1029.2h0M463.4 1029.4h0M464.3 1029.5h0M465.1 1029.6h0M465.9 1029.7h0M466.7 1029.7h0M467.6 1029.8h0M468.4 1029.8h0M469.2 1029.9h0M470 1029.9h0M470.9 1030h0M471.7 1030h0M472.5 1030h0M473.4 1030.1h0M474.2 1030.1h0M475 1030.2h0M475.8 1030.2h0M476.7 1030.2h0M477.5 1030.3h0M478.3 1030.3h0M479.1 1030.4h0M480 1030.4h0M480.8 1030.5h0M481.6 1030.5h0M482.4 1030.5h0M483.3 1030.6h0M484.1 1030.6h0M484.9 1030.7h0M485.8 1030.7h0M486.6 1030.7h0M487.4 1030.8h0M488.2 1030.8h0M489.1 1030.8h0M489.9 1030.9h0M490.7 1030.9h0M491.5 1030.9h0M492.4 1030.9h0M493.2 1031h0M494 1031h0M494.9 1031h0M495.7 1031h0M496.5 1031h0M497.3 1031.1h0M498.2 1031.1h0M499 1031.1h0M499.8 1031.1h0M500.6 1031.2h0M501.5 1031.2h0M502.3 1031.2h0M503.1 1031.2h0M503.9 1031.2h0M504.8 1031.3h0M505.6 1031.3h0M506.4 1031.3h0M507.3 1031.3h0M508.1 1031.4h0M508.9 1031.4h0M509.7 1031.4h0M510.6 1031.5h0M511.4 1031.5h0M512.2 1031.6h0M513 1031.6h0M513.9 1031.7h0M514.7 1031.8h0M515.5 1031.9h0M516.3 1031.9h0M517.2 1032h0M518 1032.1h0M518.8 1032.1h0M519.7 1032.2h0M520.5 1032.3h0M521.3 1032.4h0M522.1 1032.6h0M523 1032.7h0M523.8 1032.9h0M524.6 1033.1h0M525.4 1033.3h0M526.3 1033.5h0M527.1 1033.7h0M527.9 1033.9h0M528.7 1034.1h0M529.6 1034.3h0M530.4 1034.4h0" stroke="#000" stroke-width="3.75" stroke-linecap="round" fill="none"/>
<rect x="50.9" y="698.4" width="479.5" height="346.2" fill="none" stroke="#404040" stroke-width="1.2"/>
<line x1="45.5" y1="1044.6" x2="50.9" y2="1044.6" stroke="#404040" stroke-width="1.1"/>
<text x="39.3" y="1049.0" text-anchor="end" class="t">0</text>
<line x1="45.5" y1="942.7" x2="50.9" y2="942.7" stroke="#404040" stroke-width="1.1"/>
<text x="39.3" y="947.1" text-anchor="end" class="t">1</text>
<line x1="45.5" y1="840.9" x2="50.9" y2="840.9" stroke="#404040" stroke-width="1.1"/>
<text x="39.3" y="845.3" text-anchor="end" class="t">2</text>
<line x1="45.5" y1="739.0" x2="50.9" y2="739.0" stroke="#404040" stroke-width="1.1"/>
<text x="39.3" y="743.4" text-anchor="end" class="t">3</text>
<text transform="translate(15.4 871.5) rotate(-90)" text-anchor="middle" font-size="16.5">Absorbance</text>
<rect x="204.4" y="713.4" width="6.2" height="6.2" fill="#bfbfbf"/>
<path d="M207.5 730.3l4 6.8h-8z" fill="#7e7e7e"/>
<circle cx="207.5" cy="752.4" r="3.5" fill="#000"/>
<text x="243.5" y="721.3" font-size="14.25">Biotic</text>
<text x="243.5" y="738.8" font-size="14.25"><tspan font-style="italic">C. infirmominiatum</tspan><tspan dx="-0.7"> F13B</tspan> 40 h of cultivation</text>
<text x="243.5" y="756.9" font-size="14.25">Abiotic</text>
<line x1="117.0" y1="1044.6" x2="117.0" y2="1050.0" stroke="#404040" stroke-width="1.1"/>
<text x="117.0" y="1068.9" text-anchor="middle" class="t">300</text>
<line x1="199.7" y1="1044.6" x2="199.7" y2="1050.0" stroke="#404040" stroke-width="1.1"/>
<text x="199.7" y="1068.9" text-anchor="middle" class="t">400</text>
<line x1="282.4" y1="1044.6" x2="282.4" y2="1050.0" stroke="#404040" stroke-width="1.1"/>
<text x="282.4" y="1068.9" text-anchor="middle" class="t">500</text>
<line x1="365.1" y1="1044.6" x2="365.1" y2="1050.0" stroke="#404040" stroke-width="1.1"/>
<text x="365.1" y="1068.9" text-anchor="middle" class="t">600</text>
<line x1="447.7" y1="1044.6" x2="447.7" y2="1050.0" stroke="#404040" stroke-width="1.1"/>
<text x="447.7" y="1068.9" text-anchor="middle" class="t">700</text>
<line x1="530.4" y1="1044.6" x2="530.4" y2="1050.0" stroke="#404040" stroke-width="1.1"/>
<text x="530.4" y="1068.9" text-anchor="middle" class="t">800</text>
<text x="291.0" y="1099.2" text-anchor="middle" class="a">Wavelength (nm)</text>
</svg>
</body></html>
